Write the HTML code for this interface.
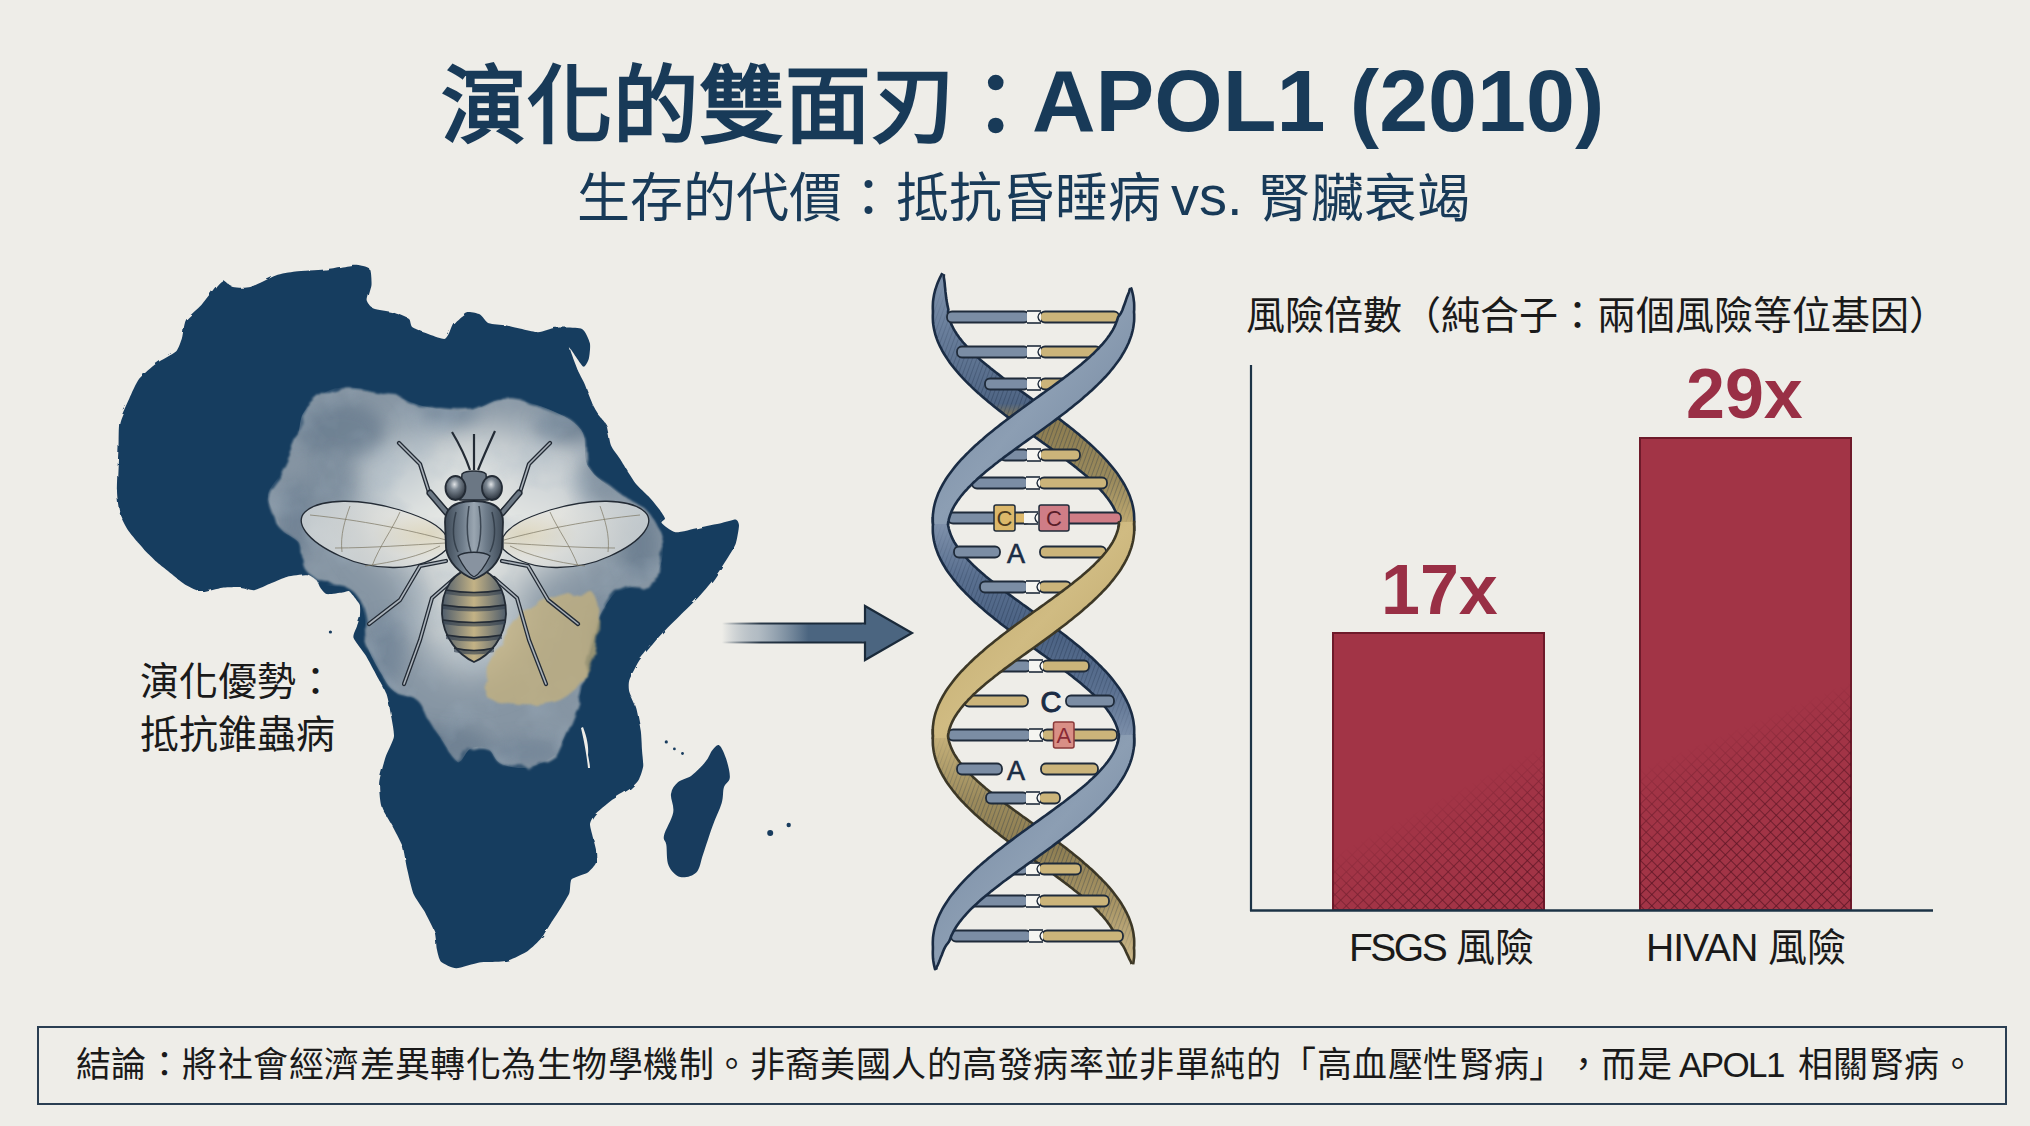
<!DOCTYPE html>
<html lang="zh-TW">
<head>
<meta charset="utf-8">
<style>
html,body{margin:0;padding:0;}
body{width:2030px;height:1126px;overflow:hidden;background:#eeede8;font-family:"Liberation Sans",sans-serif;position:relative;}
.abs{position:absolute;white-space:nowrap;}
.tt{font-size:85.5px;font-weight:bold;color:#183a58;line-height:100px;top:55px;}
.st{font-size:53px;color:#183a58;line-height:64px;top:167px;}
#adv{left:140px;top:655px;font-size:39px;color:#1a1a1a;line-height:53px;}
#charttitle{left:1246px;top:290px;font-size:39px;color:#1a1a1a;line-height:52px;}
#box{left:37px;top:1026px;width:1970px;height:79px;border:2px solid #2a3e52;box-sizing:border-box;}
.cc{top:1040px;font-size:35px;letter-spacing:0.45px;color:#1a1a1a;line-height:50px;}
.val{font-size:70px;font-weight:bold;color:#992f45;line-height:84px;}
.lab{top:923px;font-size:39px;color:#1a1a1a;line-height:50px;}
</style>
</head>
<body>
<svg class="abs" style="left:0;top:0" width="2030" height="1126">
<defs>
<filter id="rough" x="-5%" y="-5%" width="110%" height="110%"><feTurbulence type="fractalNoise" baseFrequency="0.08" numOctaves="2" seed="3"/><feDisplacementMap in="SourceGraphic" scale="3"/></filter>
<filter id="wc" x="-10%" y="-10%" width="120%" height="120%"><feTurbulence type="fractalNoise" baseFrequency="0.03" numOctaves="3" seed="7" result="n"/><feDisplacementMap in="SourceGraphic" in2="n" scale="14"/><feGaussianBlur stdDeviation="1.2"/></filter>
<filter id="blur8" x="-50%" y="-50%" width="200%" height="200%"><feGaussianBlur stdDeviation="8"/></filter>
<filter id="blur20" x="-50%" y="-50%" width="200%" height="200%"><feGaussianBlur stdDeviation="22"/></filter>
<filter id="mottle" x="0" y="0" width="100%" height="100%"><feTurbulence type="fractalNoise" baseFrequency="0.025" numOctaves="3" seed="11" result="t"/><feColorMatrix in="t" type="matrix" values="0 0 0 0 0.36  0 0 0 0 0.45  0 0 0 0 0.54  0 0 0 2.2 -0.95"/></filter>
<radialGradient id="cloudg" cx="0.5" cy="0.45" r="0.6">
<stop offset="0" stop-color="#e9eae6"/><stop offset="0.35" stop-color="#dfe2e1"/><stop offset="0.7" stop-color="#a9b6c0"/><stop offset="1" stop-color="#7f93a6"/>
</radialGradient>
<clipPath id="cloudclip"><path d="M304.8,411.0C311.0,402.9 321.6,391.7 334.6,388.6C347.6,385.5 367.5,389.3 383.0,392.4C398.5,395.5 413.5,404.2 427.8,407.3C442.1,410.4 456.5,412.2 468.9,411.0C481.3,409.8 490.0,400.4 502.4,399.8C514.8,399.2 530.4,402.3 543.5,407.3C556.6,412.3 573.3,419.8 580.8,429.7C588.2,439.6 582.0,456.4 588.2,467.0C594.4,477.6 608.0,485.6 618.0,493.0C628.0,500.4 640.4,503.6 647.9,511.7C655.4,519.8 661.5,531.0 662.8,541.6C664.0,552.2 661.9,567.0 655.4,575.1C648.9,583.2 630.9,586.9 624.0,590.0C617.1,593.1 618.3,589.6 614.3,593.8C610.3,598.0 603.1,608.8 600.0,615.0C596.9,621.2 598.3,620.9 595.7,631.0C593.1,641.1 587.6,663.4 584.5,675.9C581.4,688.4 581.1,694.0 577.0,705.7C572.9,717.4 564.2,737.5 560.0,746.0C555.8,754.5 557.6,753.4 552.0,757.0C546.4,760.6 534.8,766.6 526.3,767.7C517.8,768.8 507.1,766.7 500.7,763.5C494.3,760.3 493.0,751.0 488.0,748.5C483.0,746.0 475.5,746.4 470.9,748.5C466.3,750.6 463.0,759.9 460.2,761.3C457.4,762.7 459.1,764.1 453.8,757.0C448.5,749.9 434.6,728.0 428.5,718.5C422.4,709.0 422.6,704.4 417.0,700.0C411.4,695.6 401.0,696.5 395.0,692.0C389.0,687.5 385.7,680.8 381.0,673.0C376.3,665.2 369.8,654.3 367.0,645.0C364.2,635.7 366.0,625.0 364.5,617.0C363.0,609.0 361.1,601.8 358.0,597.0C354.9,592.2 351.2,589.9 346.0,588.0C340.8,586.1 331.7,586.7 327.0,585.5C322.3,584.3 321.5,583.6 318.0,581.0C314.5,578.4 308.5,574.2 306.0,570.0C303.5,565.8 304.0,560.5 303.0,556.0C302.0,551.5 303.3,547.2 300.0,543.0C296.7,538.8 286.7,534.8 283.0,531.0C279.3,527.2 280.5,526.0 278.0,520.0C275.5,514.0 267.3,503.2 268.0,495.0C268.7,486.8 277.5,480.4 282.4,470.7C287.3,461.0 293.6,446.9 297.3,437.0C301.0,427.1 298.6,419.1 304.8,411.0Z"/></clipPath>
</defs>
<path d="M117.0,491.0C116.9,484.4 118.2,454.9 118.5,448.0C118.8,441.1 118.4,426.9 119.5,422.0C120.6,417.1 127.4,402.8 129.3,398.5C131.2,394.2 136.3,382.5 139.0,379.0C141.7,375.5 153.0,366.0 156.7,363.3C160.4,360.6 173.5,354.1 176.0,351.6C178.5,349.1 181.0,341.2 182.0,338.0C183.0,334.8 184.0,323.3 186.0,320.0C188.0,316.7 198.5,308.2 201.6,304.7C204.7,301.2 214.9,287.4 217.0,285.0C219.1,282.6 221.4,280.1 223.0,280.3C224.6,280.5 230.1,286.3 232.8,287.0C235.5,287.7 246.1,288.2 250.4,287.0C254.7,285.8 271.3,276.9 275.8,275.4C280.3,273.8 290.5,272.1 295.4,271.5C300.3,270.9 318.8,270.2 324.7,269.5C330.6,268.8 349.5,264.8 354.0,264.7C358.5,264.6 367.9,266.6 369.6,268.6C371.4,270.6 371.7,281.8 371.5,285.0C371.3,288.2 367.4,298.4 367.6,300.8C367.8,303.2 371.0,307.4 373.5,308.6C376.0,309.8 389.4,311.5 393.0,312.5C396.6,313.5 407.0,317.4 409.0,318.9C411.0,320.4 409.8,325.8 413.3,327.8C416.8,329.8 440.4,339.3 444.4,338.9C448.4,338.4 451.1,326.0 453.3,323.3C455.5,320.6 463.9,313.1 466.6,312.2C469.3,311.3 477.8,313.3 480.0,314.4C482.2,315.5 486.1,322.2 488.8,323.3C491.5,324.4 501.7,324.6 506.6,325.5C511.5,326.4 532.8,332.0 537.7,332.2C542.6,332.4 551.1,328.1 555.5,327.8C559.9,327.5 578.6,327.3 582.0,328.9C585.4,330.4 589.2,340.3 589.9,343.3C590.6,346.3 589.5,356.5 588.8,358.8C588.1,361.1 585.1,367.7 583.2,366.6C581.3,365.5 570.4,347.9 569.9,348.2C569.4,348.5 576.3,366.5 577.7,370.0C579.1,373.5 582.8,379.8 584.3,383.3C585.8,386.9 591.6,402.2 593.2,405.5C594.8,408.8 598.6,414.6 599.9,416.6C601.2,418.6 605.4,422.6 606.5,425.5C607.6,428.4 609.7,442.2 611.0,445.5C612.3,448.8 617.5,455.0 619.9,458.8C622.3,462.6 632.5,479.4 635.4,483.2C638.3,487.0 646.3,493.9 648.7,496.5C651.1,499.1 657.7,507.0 659.3,509.2C660.9,511.4 664.8,517.1 665.0,518.5C665.2,519.9 660.6,521.6 661.6,523.0C662.6,524.4 671.8,531.8 675.5,532.3C679.2,532.8 694.0,528.6 698.6,527.7C703.2,526.8 718.0,523.8 721.7,523.0C725.4,522.2 733.9,519.4 735.6,519.6C737.3,519.8 739.0,523.0 739.0,525.4C739.0,527.8 736.9,540.4 735.6,543.9C734.3,547.4 728.6,556.3 726.3,560.0C724.0,563.7 715.3,577.1 712.5,580.8C709.7,584.5 701.9,593.5 698.6,597.0C695.4,600.5 683.7,611.8 680.0,615.5C676.3,619.2 664.8,630.5 661.6,634.0C658.4,637.5 650.1,647.2 647.8,650.0C645.5,652.8 640.4,658.7 638.5,661.7C636.6,664.7 630.2,677.2 629.3,680.2C628.4,683.2 628.6,688.9 629.3,691.7C630.0,694.5 635.1,704.1 636.2,708.0C637.4,711.9 640.2,726.8 640.8,731.0C641.4,735.2 641.8,746.5 642.0,750.0C642.2,753.5 643.5,763.2 643.2,766.2C642.9,769.2 640.0,777.7 638.6,780.0C637.2,782.3 632.2,787.2 629.4,789.3C626.6,791.4 614.5,798.3 611.0,800.8C607.5,803.3 596.8,812.4 594.7,814.7C592.6,817.0 590.2,821.9 590.0,824.0C589.8,826.1 591.8,832.9 592.4,835.4C593.0,837.9 595.5,846.5 595.9,849.3C596.2,852.1 596.7,860.7 595.9,863.0C595.1,865.3 590.2,870.8 587.8,872.4C585.4,874.0 573.5,877.2 571.6,879.3C569.8,881.4 570.5,890.2 569.3,893.2C568.1,896.2 561.8,906.3 560.0,909.3C558.2,912.3 552.8,920.3 550.9,923.2C549.0,926.1 543.5,935.5 541.2,938.3C538.9,941.1 531.0,948.7 527.8,950.9C524.6,953.1 512.2,959.0 509.3,960.1C506.4,961.2 501.6,961.5 498.6,961.7C495.6,961.9 483.5,961.8 479.3,962.4C475.1,963.0 460.0,968.3 456.2,968.2C452.4,968.1 442.9,963.6 441.0,961.7C439.1,959.8 437.4,952.0 436.8,949.0C436.2,946.0 435.9,935.7 434.6,931.9C433.3,928.1 426.1,914.4 424.0,910.6C421.9,906.8 415.0,897.8 413.3,893.5C411.6,889.2 408.0,872.7 406.9,868.0C405.8,863.3 404.1,850.9 402.6,846.6C401.1,842.3 394.1,829.4 392.0,825.3C389.9,821.2 382.6,810.3 381.3,806.0C380.0,801.7 378.8,787.5 379.2,782.6C379.6,777.7 384.1,761.6 385.6,757.0C387.1,752.4 393.3,740.9 393.9,737.0C394.5,733.1 392.3,722.7 391.6,718.5C390.9,714.3 388.2,699.1 387.0,695.4C385.8,691.7 382.1,685.5 380.0,681.6C377.9,677.7 368.8,660.6 366.2,656.2C363.6,651.8 354.4,640.7 353.5,637.7C352.6,634.7 356.4,628.3 357.0,626.2C357.6,624.1 359.5,619.1 359.8,617.0C360.1,614.9 360.4,607.0 359.8,605.0C359.2,603.0 355.4,598.7 354.3,597.3C353.2,595.9 350.0,591.5 348.8,591.0C347.6,590.5 344.6,592.3 342.4,592.6C340.2,592.9 328.9,594.6 326.7,594.1C324.5,593.6 321.4,589.2 320.4,587.8C319.4,586.4 317.7,581.3 316.4,580.0C315.1,578.7 309.9,574.7 307.0,574.4C304.1,574.1 290.9,575.9 287.3,576.8C283.8,577.7 274.8,581.8 271.5,583.1C268.2,584.4 257.3,589.8 254.2,590.2C251.0,590.6 243.2,587.2 240.0,587.0C236.8,586.8 226.0,587.2 222.2,587.7C218.4,588.2 206.0,592.3 202.3,592.0C198.6,591.7 188.4,586.6 185.3,584.8C182.2,582.9 173.8,575.8 171.0,573.5C168.2,571.2 159.6,564.6 156.8,562.0C154.0,559.4 145.4,551.0 142.6,547.9C139.8,544.8 130.7,534.2 128.4,530.8C126.1,527.4 121.0,517.8 119.9,513.8C118.8,509.8 117.1,497.6 117.0,491.0Z" fill="#183c5e" filter="url(#rough)"/>
<path d="M719.4,745.4C721.7,746.9 724.6,753.9 726.3,759.3C728.0,764.7 730.2,773.1 729.8,777.7C729.4,782.3 725.4,782.8 724.0,787.0C722.6,791.2 723.6,796.6 721.7,803.1C719.8,809.6 715.6,817.7 712.5,826.2C709.4,834.7 705.9,846.2 703.2,853.9C700.5,861.6 700.1,868.5 696.3,872.4C692.5,876.2 684.8,878.1 680.2,877.0C675.6,875.9 670.9,870.9 668.6,865.5C666.3,860.1 667.1,849.7 666.3,844.7C665.5,839.7 662.9,840.8 664.0,835.4C665.1,830.0 672.0,819.3 673.2,812.4C674.4,805.5 670.2,798.9 671.0,793.9C671.8,788.9 674.4,785.4 677.9,782.3C681.4,779.2 687.1,778.8 691.7,775.4C696.3,772.0 702.1,765.8 705.6,761.6C709.1,757.4 710.2,752.7 712.5,750.0C714.8,747.3 717.1,743.9 719.4,745.4Z" fill="#183c5e"/>
<circle cx="666.3" cy="741.9" r="1.6" fill="#183c5e"/>
<circle cx="674.4" cy="748.9" r="1.4" fill="#183c5e"/>
<circle cx="682.5" cy="753.5" r="1.4" fill="#183c5e"/>
<circle cx="770.2" cy="833.1" r="3" fill="#183c5e"/>
<circle cx="788.7" cy="825" r="2.2" fill="#183c5e"/>
<circle cx="330.4" cy="632" r="1.6" fill="#183c5e"/>
<path d="M583,727 C586,735 589,745 588,755 C589,760 590,765 590,768 L588,768 C587,758 585,745 581,728Z" fill="#eeede8"/>
<path d="M304.8,411.0C311.0,402.9 321.6,391.7 334.6,388.6C347.6,385.5 367.5,389.3 383.0,392.4C398.5,395.5 413.5,404.2 427.8,407.3C442.1,410.4 456.5,412.2 468.9,411.0C481.3,409.8 490.0,400.4 502.4,399.8C514.8,399.2 530.4,402.3 543.5,407.3C556.6,412.3 573.3,419.8 580.8,429.7C588.2,439.6 582.0,456.4 588.2,467.0C594.4,477.6 608.0,485.6 618.0,493.0C628.0,500.4 640.4,503.6 647.9,511.7C655.4,519.8 661.5,531.0 662.8,541.6C664.0,552.2 661.9,567.0 655.4,575.1C648.9,583.2 630.9,586.9 624.0,590.0C617.1,593.1 618.3,589.6 614.3,593.8C610.3,598.0 603.1,608.8 600.0,615.0C596.9,621.2 598.3,620.9 595.7,631.0C593.1,641.1 587.6,663.4 584.5,675.9C581.4,688.4 581.1,694.0 577.0,705.7C572.9,717.4 564.2,737.5 560.0,746.0C555.8,754.5 557.6,753.4 552.0,757.0C546.4,760.6 534.8,766.6 526.3,767.7C517.8,768.8 507.1,766.7 500.7,763.5C494.3,760.3 493.0,751.0 488.0,748.5C483.0,746.0 475.5,746.4 470.9,748.5C466.3,750.6 463.0,759.9 460.2,761.3C457.4,762.7 459.1,764.1 453.8,757.0C448.5,749.9 434.6,728.0 428.5,718.5C422.4,709.0 422.6,704.4 417.0,700.0C411.4,695.6 401.0,696.5 395.0,692.0C389.0,687.5 385.7,680.8 381.0,673.0C376.3,665.2 369.8,654.3 367.0,645.0C364.2,635.7 366.0,625.0 364.5,617.0C363.0,609.0 361.1,601.8 358.0,597.0C354.9,592.2 351.2,589.9 346.0,588.0C340.8,586.1 331.7,586.7 327.0,585.5C322.3,584.3 321.5,583.6 318.0,581.0C314.5,578.4 308.5,574.2 306.0,570.0C303.5,565.8 304.0,560.5 303.0,556.0C302.0,551.5 303.3,547.2 300.0,543.0C296.7,538.8 286.7,534.8 283.0,531.0C279.3,527.2 280.5,526.0 278.0,520.0C275.5,514.0 267.3,503.2 268.0,495.0C268.7,486.8 277.5,480.4 282.4,470.7C287.3,461.0 293.6,446.9 297.3,437.0C301.0,427.1 298.6,419.1 304.8,411.0Z" fill="#8695a3" filter="url(#wc)"/>
<g clip-path="url(#cloudclip)">
<g filter="url(#blur20)">
<ellipse cx="480" cy="505" rx="115" ry="75" fill="#e6e8e5"/>
<ellipse cx="470" cy="610" rx="50" ry="60" fill="#d9dddc"/>
<ellipse cx="545" cy="470" rx="50" ry="40" fill="#cdd3d6"/>
<ellipse cx="400" cy="470" rx="45" ry="35" fill="#c5cdd2"/>
</g>
<g filter="url(#blur8)" opacity="0.7">
<ellipse cx="340" cy="430" rx="45" ry="28" fill="#66798c"/>
<ellipse cx="450" cy="412" rx="30" ry="14" fill="#72869a"/>
<ellipse cx="565" cy="425" rx="30" ry="18" fill="#66798c"/>
<ellipse cx="295" cy="520" rx="16" ry="40" fill="#6a7d90"/>
<ellipse cx="640" cy="545" rx="18" ry="35" fill="#66798c"/>
<ellipse cx="440" cy="745" rx="50" ry="20" fill="#677a8d"/>
<ellipse cx="385" cy="650" rx="18" ry="35" fill="#6f8295"/>
<ellipse cx="605" cy="640" rx="14" ry="40" fill="#66798c"/>
<ellipse cx="525" cy="752" rx="38" ry="14" fill="#6f8295"/>
<ellipse cx="330" cy="480" rx="25" ry="30" fill="#7a8b9b"/>
<ellipse cx="600" cy="480" rx="22" ry="25" fill="#7a8b9b"/>
</g>
<rect x="260" y="380" width="420" height="400" fill="#5d7389" filter="url(#mottle)" opacity="0.35"/>
</g>
<path d="M528,612 C545,600 570,592 590,590 C602,600 600,630 596,650 C592,668 580,690 560,700 C540,708 510,706 490,700 C482,690 486,676 495,660 C505,640 515,622 528,612Z" fill="#c8b37c" opacity="0.72" filter="url(#wc)"/>
</svg>
<svg class="abs" style="left:0;top:0" width="2030" height="1126">
<defs>
<linearGradient id="thg" x1="0" y1="0" x2="1" y2="0"><stop offset="0" stop-color="#3e4a57"/><stop offset="0.3" stop-color="#6f7d8b"/><stop offset="0.5" stop-color="#9aa6b1"/><stop offset="0.7" stop-color="#6f7d8b"/><stop offset="1" stop-color="#3e4a57"/></linearGradient>
<linearGradient id="abg" x1="0" y1="0" x2="1" y2="0"><stop offset="0" stop-color="#4f5d6c"/><stop offset="0.5" stop-color="#c3b285"/><stop offset="1" stop-color="#4f5d6c"/></linearGradient>
<radialGradient id="eyeg" cx="0.45" cy="0.35" r="0.65"><stop offset="0" stop-color="#e0e3e6"/><stop offset="0.35" stop-color="#7d8893"/><stop offset="1" stop-color="#2a323c"/></radialGradient>
<radialGradient id="wingg" cx="0.85" cy="0.5" r="0.9"><stop offset="0" stop-color="#ddd3b4"/><stop offset="0.4" stop-color="#e7e6e0"/><stop offset="1" stop-color="#e2e5e4"/></radialGradient>
<radialGradient id="wingg2" cx="0.15" cy="0.5" r="0.9"><stop offset="0" stop-color="#ddd3b4"/><stop offset="0.4" stop-color="#e7e6e0"/><stop offset="1" stop-color="#e2e5e4"/></radialGradient>
</defs>
<path d="M447.0,511.0 L429.0,492.0 L420.0,464.0 L399.0,443.0" fill="none" stroke="#232b35" stroke-width="4.2" stroke-linejoin="round" stroke-linecap="round"/><path d="M447.0,511.0 L429.0,492.0 L420.0,464.0 L399.0,443.0" fill="none" stroke="#aab2ba" stroke-width="1.6" stroke-linejoin="round" stroke-linecap="round"/>
<path d="M502.0,511.0 L520.0,492.0 L529.0,464.0 L550.0,443.0" fill="none" stroke="#232b35" stroke-width="4.2" stroke-linejoin="round" stroke-linecap="round"/><path d="M502.0,511.0 L520.0,492.0 L529.0,464.0 L550.0,443.0" fill="none" stroke="#aab2ba" stroke-width="1.6" stroke-linejoin="round" stroke-linecap="round"/>
<path d="M446.0,561.0 L420.0,566.0 L400.0,600.0 L369.0,624.0" fill="none" stroke="#232b35" stroke-width="4.2" stroke-linejoin="round" stroke-linecap="round"/><path d="M446.0,561.0 L420.0,566.0 L400.0,600.0 L369.0,624.0" fill="none" stroke="#aab2ba" stroke-width="1.6" stroke-linejoin="round" stroke-linecap="round"/>
<path d="M502.0,561.0 L528.0,566.0 L548.0,600.0 L578.0,624.0" fill="none" stroke="#232b35" stroke-width="4.2" stroke-linejoin="round" stroke-linecap="round"/><path d="M502.0,561.0 L528.0,566.0 L548.0,600.0 L578.0,624.0" fill="none" stroke="#aab2ba" stroke-width="1.6" stroke-linejoin="round" stroke-linecap="round"/>
<path d="M455.0,578.0 L432.0,598.0 L420.0,640.0 L404.0,684.0" fill="none" stroke="#232b35" stroke-width="4.2" stroke-linejoin="round" stroke-linecap="round"/><path d="M455.0,578.0 L432.0,598.0 L420.0,640.0 L404.0,684.0" fill="none" stroke="#aab2ba" stroke-width="1.6" stroke-linejoin="round" stroke-linecap="round"/>
<path d="M494.0,578.0 L517.0,598.0 L529.0,640.0 L546.0,684.0" fill="none" stroke="#232b35" stroke-width="4.2" stroke-linejoin="round" stroke-linecap="round"/><path d="M494.0,578.0 L517.0,598.0 L529.0,640.0 L546.0,684.0" fill="none" stroke="#aab2ba" stroke-width="1.6" stroke-linejoin="round" stroke-linecap="round"/>
<path d="M447,513 L430,493" stroke="#232b35" stroke-width="7" stroke-linecap="round"/><path d="M447,513 L430,493" stroke="#6c7884" stroke-width="4" stroke-linecap="round"/>
<path d="M502,513 L519,493" stroke="#232b35" stroke-width="7" stroke-linecap="round"/><path d="M502,513 L519,493" stroke="#6c7884" stroke-width="4" stroke-linecap="round"/>
<path d="M447,549 C420,575 370,570 340,556 C305,540 295,522 305,512 C320,498 360,498 400,510 C425,518 440,525 447,537Z" fill="url(#wingg)" fill-opacity="0.7" stroke="#232b35" stroke-width="1.3"/>
<path d="M503,549 C530,575 580,570 610,556 C645,540 655,522 645,512 C630,498 590,498 550,510 C525,518 510,525 503,537Z" fill="url(#wingg2)" fill-opacity="0.7" stroke="#232b35" stroke-width="1.3"/>
<path d="M446,540 C410,530 360,520 310,515" fill="none" stroke="#7d7865" stroke-width="0.9" opacity="0.8"/>
<path d="M446,543 C410,545 370,548 335,548" fill="none" stroke="#7d7865" stroke-width="0.9" opacity="0.8"/>
<path d="M440,546 C420,556 395,562 365,566" fill="none" stroke="#7d7865" stroke-width="0.9" opacity="0.8"/>
<path d="M400,512 C392,530 380,545 372,566" fill="none" stroke="#7d7865" stroke-width="0.9" opacity="0.8"/>
<path d="M350,506 C345,520 340,535 342,552" fill="none" stroke="#7d7865" stroke-width="0.9" opacity="0.8"/>
<path d="M504,540 C540,530 590,520 640,515" fill="none" stroke="#7d7865" stroke-width="0.9" opacity="0.8"/>
<path d="M504,543 C540,545 580,548 615,548" fill="none" stroke="#7d7865" stroke-width="0.9" opacity="0.8"/>
<path d="M510,546 C530,556 555,562 585,566" fill="none" stroke="#7d7865" stroke-width="0.9" opacity="0.8"/>
<path d="M550,512 C558,530 570,545 578,566" fill="none" stroke="#7d7865" stroke-width="0.9" opacity="0.8"/>
<path d="M600,506 C605,520 610,535 608,552" fill="none" stroke="#7d7865" stroke-width="0.9" opacity="0.8"/>
<path d="M470,470 C465,455 458,442 452,432" fill="none" stroke="#232b35" stroke-width="2.2"/>
<path d="M474,470 L474,434" fill="none" stroke="#232b35" stroke-width="2.2"/>
<path d="M478,470 C484,455 490,442 495,431" fill="none" stroke="#232b35" stroke-width="2.2"/>
<path d="M474,569 C494,569 506,590 506,614 C505,638 490,655 474,662 C459,655 443,638 442,614 C441,590 454,569 474,569Z" fill="url(#abg)" stroke="#232b35" stroke-width="1.8"/>
<path d="M446,590 Q474,595 502,590 L502,594 Q474,599 446,594Z" fill="#2f3c4c" opacity="0.55"/>
<path d="M446,590 Q474,595 502,590" fill="none" stroke="#232b35" stroke-width="1.4"/>
<path d="M443,605 Q474,610 505,605 L505,609 Q474,614 443,609Z" fill="#2f3c4c" opacity="0.6"/>
<path d="M443,605 Q474,610 505,605" fill="none" stroke="#232b35" stroke-width="1.4"/>
<path d="M443,620 Q474,625 505,620 L505,624 Q474,629 443,624Z" fill="#2f3c4c" opacity="0.6"/>
<path d="M443,620 Q474,625 505,620" fill="none" stroke="#232b35" stroke-width="1.4"/>
<path d="M446,635 Q474,640 502,635 L502,639 Q474,644 446,639Z" fill="#2f3c4c" opacity="0.6"/>
<path d="M446,635 Q474,640 502,635" fill="none" stroke="#232b35" stroke-width="1.4"/>
<path d="M454,648 Q474,653 494,648 L494,652 Q474,657 454,652Z" fill="#2f3c4c" opacity="0.6"/>
<path d="M454,648 Q474,653 494,648" fill="none" stroke="#232b35" stroke-width="1.4"/>
<path d="M474,501 C492,501 503,507 503,522 L502,548 C500,562 488,574 474,579 C460,574 448,562 446,548 L445,522 C445,507 456,501 474,501Z" fill="url(#thg)" stroke="#232b35" stroke-width="1.8"/>
<path d="M458,556 C463,566 468,574 474,577 C480,574 485,566 490,556 C484,551 464,551 458,556Z" fill="#8893a0" stroke="#232b35" stroke-width="1.3"/>
<path d="M469,506 C466,525 467,540 471,552" fill="none" stroke="#2f3945" stroke-width="1.5" opacity="0.85"/>
<path d="M479,506 C482,525 481,540 477,552" fill="none" stroke="#2f3945" stroke-width="1.5" opacity="0.85"/>
<path d="M456,512 C452,528 453,542 458,552" fill="none" stroke="#2f3945" stroke-width="1.5" opacity="0.85"/>
<path d="M492,512 C496,528 495,542 490,552" fill="none" stroke="#2f3945" stroke-width="1.5" opacity="0.85"/>
<path d="M462,474 C466,470 482,470 486,474 L488,500 L460,500Z" fill="#6b7784" stroke="#232b35" stroke-width="1.5"/>
<ellipse cx="455.5" cy="488" rx="10" ry="12" fill="url(#eyeg)" stroke="#232b35" stroke-width="1.8"/>
<ellipse cx="492" cy="488" rx="10" ry="12" fill="url(#eyeg)" stroke="#232b35" stroke-width="1.8"/>
</svg>
<svg class="abs" style="left:0;top:0" width="2030" height="1126">
<defs>
<linearGradient id="arrg" x1="722" y1="0" x2="866" y2="0" gradientUnits="userSpaceOnUse">
<stop offset="0" stop-color="#4b6580" stop-opacity="0"/><stop offset="0.25" stop-color="#8a9bab" stop-opacity="0.6"/><stop offset="0.6" stop-color="#4b6580"/><stop offset="1" stop-color="#4b6580"/>
</linearGradient>
<linearGradient id="arrs" x1="722" y1="0" x2="800" y2="0" gradientUnits="userSpaceOnUse">
<stop offset="0" stop-color="#1a2a3a" stop-opacity="0"/><stop offset="0.5" stop-color="#1a2a3a" stop-opacity="0.9"/><stop offset="1" stop-color="#1a2a3a"/>
</linearGradient>
</defs>
<rect x="722" y="623" width="146" height="20" fill="url(#arrg)"/>
<line x1="722" y1="623.5" x2="866" y2="623.5" stroke="url(#arrs)" stroke-width="2.2"/>
<line x1="722" y1="642.5" x2="866" y2="642.5" stroke="url(#arrs)" stroke-width="2.2"/>
<path d="M865,606 L912,633 L865,660Z" fill="#4b6580" stroke="#1a2a3a" stroke-width="2.2" stroke-linejoin="miter"/>
<rect x="862" y="624.6" width="5" height="16.8" fill="#4b6580"/>
</svg>

<svg class="abs" style="left:0;top:0" width="2030" height="1126">
<defs>
<pattern id="hb" width="4" height="4" patternUnits="userSpaceOnUse" patternTransform="rotate(20)"><line x1="0" y1="0" x2="0" y2="4" stroke="#1f2f48" stroke-width="1.3"/></pattern>
<pattern id="hg" width="5" height="5" patternUnits="userSpaceOnUse" patternTransform="rotate(25)"><rect width="5" height="5" fill="#9c8b5c"/><line x1="0" y1="0" x2="0" y2="5" stroke="#6b5d38" stroke-width="1.6"/></pattern>
<linearGradient id="fb" x1="0" y1="0" x2="1" y2="1"><stop offset="0" stop-color="#71859f"/><stop offset="0.5" stop-color="#8c9eb3"/><stop offset="1" stop-color="#6d819b"/></linearGradient>
<linearGradient id="fg" x1="0" y1="0" x2="1" y2="1"><stop offset="0" stop-color="#bda567"/><stop offset="0.5" stop-color="#d0bb82"/><stop offset="1" stop-color="#b9a265"/></linearGradient>
</defs>
<defs>
<linearGradient id="bk1" gradientUnits="userSpaceOnUse" x1="0" y1="277" x2="0" y2="530"><stop offset="0" stop-color="#7f93ac"/><stop offset="0.2" stop-color="#6a7f9c"/><stop offset="0.5" stop-color="#4f6584"/><stop offset="0.56" stop-color="#8c7c50"/><stop offset="0.8" stop-color="#9a8a5c"/><stop offset="1" stop-color="#c4ae74"/></linearGradient>
<linearGradient id="mk1g" gradientUnits="userSpaceOnUse" x1="0" y1="277" x2="0" y2="530"><stop offset="0" stop-color="#fff" stop-opacity="0"/><stop offset="0.25" stop-color="#fff" stop-opacity="0.6"/><stop offset="0.5" stop-color="#fff" stop-opacity="1"/><stop offset="0.85" stop-color="#fff" stop-opacity="0.8"/><stop offset="1" stop-color="#fff" stop-opacity="0"/></linearGradient><mask id="mk1"><rect x="880" y="277" width="300" height="253" fill="url(#mk1g)"/></mask>
<linearGradient id="bk2" gradientUnits="userSpaceOnUse" x1="0" y1="518" x2="0" y2="745"><stop offset="0" stop-color="#8395ae"/><stop offset="0.25" stop-color="#5a7090"/><stop offset="0.5" stop-color="#4b6283"/><stop offset="0.75" stop-color="#5a7090"/><stop offset="1" stop-color="#8395ae"/></linearGradient>
<linearGradient id="mk2g" gradientUnits="userSpaceOnUse" x1="0" y1="518" x2="0" y2="745"><stop offset="0" stop-color="#fff" stop-opacity="0"/><stop offset="0.3" stop-color="#fff" stop-opacity="0.8"/><stop offset="0.5" stop-color="#fff" stop-opacity="1"/><stop offset="0.7" stop-color="#fff" stop-opacity="0.8"/><stop offset="1" stop-color="#fff" stop-opacity="0"/></linearGradient><mask id="mk2"><rect x="880" y="518" width="300" height="227" fill="url(#mk2g)"/></mask>
<linearGradient id="bk3" gradientUnits="userSpaceOnUse" x1="0" y1="730" x2="0" y2="962"><stop offset="0" stop-color="#c9b47c"/><stop offset="0.3" stop-color="#9c8b5c"/><stop offset="0.5" stop-color="#8e7e52"/><stop offset="0.75" stop-color="#a89565"/><stop offset="1" stop-color="#cdb98a"/></linearGradient>
<linearGradient id="mk3g" gradientUnits="userSpaceOnUse" x1="0" y1="730" x2="0" y2="962"><stop offset="0" stop-color="#fff" stop-opacity="0"/><stop offset="0.3" stop-color="#fff" stop-opacity="0.8"/><stop offset="0.5" stop-color="#fff" stop-opacity="1"/><stop offset="0.8" stop-color="#fff" stop-opacity="0.7"/><stop offset="1" stop-color="#fff" stop-opacity="0"/></linearGradient><mask id="mk3"><rect x="880" y="730" width="300" height="232" fill="url(#mk3g)"/></mask>
</defs>
<path d="M942.3,273.1 L941.1,275.5 L939.9,277.8 L938.8,280.2 L937.8,282.5 L936.9,284.9 L936.1,287.3 L935.3,289.6 L934.7,292.0 L934.1,294.4 L933.7,296.7 L933.3,299.1 L933.0,301.5 L932.9,303.8 L932.8,306.2 L932.8,308.5 L932.9,310.8 L932.9,313.2 L932.8,315.5 L932.8,317.8 L932.9,320.2 L933.0,322.5 L933.3,324.9 L933.7,327.3 L934.1,329.6 L934.7,332.0 L935.3,334.4 L936.1,336.7 L936.9,339.1 L937.8,341.5 L938.8,343.8 L939.9,346.2 L941.1,348.5 L942.3,350.9 L943.7,353.2 L945.1,355.5 L946.6,357.8 L948.1,360.1 L949.7,362.4 L951.4,364.7 L953.2,366.9 L955.0,369.2 L956.9,371.4 L958.8,373.7 L960.8,375.9 L962.9,378.1 L965.0,380.3 L967.2,382.6 L969.4,384.7 L971.6,386.9 L973.9,389.1 L976.3,391.3 L978.7,393.4 L981.1,395.6 L983.6,397.7 L986.1,399.8 L988.6,402.0 L991.2,404.1 L993.8,406.2 L996.4,408.3 L999.1,410.4 L1001.8,412.4 L1004.4,414.5 L1007.2,416.6 L1009.9,418.6 L1012.6,420.6 L1015.3,422.7 L1018.1,424.7 L1020.8,426.7 L1023.6,428.7 L1026.4,430.7 L1029.1,432.7 L1031.9,434.7 L1034.6,436.7 L1037.3,438.6 L1040.1,440.6 L1042.8,442.6 L1045.5,444.5 L1048.1,446.4 L1050.8,448.4 L1053.4,450.3 L1056.0,452.2 L1058.6,454.1 L1061.1,456.0 L1063.6,457.8 L1066.1,459.7 L1068.5,461.6 L1070.9,463.4 L1073.2,465.3 L1075.6,467.1 L1077.8,468.9 L1080.0,470.7 L1082.2,472.6 L1084.3,474.3 L1086.4,476.1 L1088.4,477.9 L1090.3,479.7 L1092.2,481.4 L1094.1,483.2 L1095.9,484.9 L1097.6,486.7 L1099.2,488.4 L1100.8,490.1 L1102.3,491.8 L1103.8,493.5 L1105.2,495.2 L1106.5,496.9 L1107.8,498.5 L1109.0,500.2 L1110.1,501.8 L1111.2,503.5 L1112.2,505.1 L1113.1,506.7 L1114.0,508.4 L1114.8,510.0 L1115.6,511.6 L1116.2,513.3 L1116.8,514.9 L1117.4,516.5 L1117.9,518.2 L1118.3,519.8 L1118.6,521.5 L1118.9,523.2 L1118.9,524.8 L1118.6,526.5 L1118.3,528.2 L1118.1,529.0 L1134.2,531.0 L1134.2,529.8 L1134.2,527.5 L1134.1,525.2 L1134.1,522.8 L1134.2,520.5 L1134.2,518.2 L1134.1,515.8 L1134.0,513.5 L1133.7,511.1 L1133.3,508.7 L1132.9,506.4 L1132.3,504.0 L1131.7,501.6 L1130.9,499.3 L1130.1,496.9 L1129.2,494.5 L1128.2,492.2 L1127.1,489.8 L1125.9,487.5 L1124.7,485.1 L1123.3,482.8 L1121.9,480.5 L1120.4,478.2 L1118.9,475.9 L1117.3,473.6 L1115.6,471.3 L1113.8,469.1 L1112.0,466.8 L1110.1,464.6 L1108.2,462.3 L1106.2,460.1 L1104.1,457.9 L1102.0,455.7 L1099.8,453.4 L1097.6,451.3 L1095.4,449.1 L1093.1,446.9 L1090.7,444.7 L1088.3,442.6 L1085.9,440.4 L1083.4,438.3 L1080.9,436.2 L1078.4,434.0 L1075.8,431.9 L1073.2,429.8 L1070.6,427.7 L1067.9,425.6 L1065.2,423.6 L1062.6,421.5 L1059.8,419.4 L1057.1,417.4 L1054.4,415.4 L1051.7,413.3 L1048.9,411.3 L1046.2,409.3 L1043.4,407.3 L1040.6,405.3 L1037.9,403.3 L1035.1,401.3 L1032.4,399.3 L1029.7,397.4 L1026.9,395.4 L1024.2,393.4 L1021.5,391.5 L1018.9,389.6 L1016.2,387.6 L1013.6,385.7 L1011.0,383.8 L1008.4,381.9 L1005.9,380.0 L1003.4,378.2 L1000.9,376.3 L998.5,374.4 L996.1,372.6 L993.8,370.7 L991.4,368.9 L989.2,367.1 L987.0,365.3 L984.8,363.4 L982.7,361.7 L980.6,359.9 L978.6,358.1 L976.7,356.3 L974.8,354.6 L972.9,352.8 L971.1,351.1 L969.4,349.3 L967.8,347.6 L966.2,345.9 L964.7,344.2 L963.2,342.5 L961.8,340.8 L960.5,339.1 L959.2,337.5 L958.0,335.8 L956.9,334.2 L955.8,332.5 L954.8,330.9 L953.9,329.3 L953.0,327.6 L952.2,326.0 L951.4,324.4 L950.8,322.7 L950.2,321.1 L949.6,319.5 L949.1,317.8 L948.7,316.2 L948.4,314.5 L948.1,312.8 L948.1,311.2 L948.4,309.5 L948.0,307.7 L947.6,305.9 L947.2,304.1 L946.9,302.1 L946.5,300.1 L946.2,298.0 L946.0,295.9 L945.7,293.6 L945.4,291.2 L945.2,288.7 L944.9,286.1 L944.7,283.3 L944.3,280.3 L943.8,277.1 L943.9,274.1Z" fill="url(#bk1)"/><path d="M942.3,273.1 L941.1,275.5 L939.9,277.8 L938.8,280.2 L937.8,282.5 L936.9,284.9 L936.1,287.3 L935.3,289.6 L934.7,292.0 L934.1,294.4 L933.7,296.7 L933.3,299.1 L933.0,301.5 L932.9,303.8 L932.8,306.2 L932.8,308.5 L932.9,310.8 L932.9,313.2 L932.8,315.5 L932.8,317.8 L932.9,320.2 L933.0,322.5 L933.3,324.9 L933.7,327.3 L934.1,329.6 L934.7,332.0 L935.3,334.4 L936.1,336.7 L936.9,339.1 L937.8,341.5 L938.8,343.8 L939.9,346.2 L941.1,348.5 L942.3,350.9 L943.7,353.2 L945.1,355.5 L946.6,357.8 L948.1,360.1 L949.7,362.4 L951.4,364.7 L953.2,366.9 L955.0,369.2 L956.9,371.4 L958.8,373.7 L960.8,375.9 L962.9,378.1 L965.0,380.3 L967.2,382.6 L969.4,384.7 L971.6,386.9 L973.9,389.1 L976.3,391.3 L978.7,393.4 L981.1,395.6 L983.6,397.7 L986.1,399.8 L988.6,402.0 L991.2,404.1 L993.8,406.2 L996.4,408.3 L999.1,410.4 L1001.8,412.4 L1004.4,414.5 L1007.2,416.6 L1009.9,418.6 L1012.6,420.6 L1015.3,422.7 L1018.1,424.7 L1020.8,426.7 L1023.6,428.7 L1026.4,430.7 L1029.1,432.7 L1031.9,434.7 L1034.6,436.7 L1037.3,438.6 L1040.1,440.6 L1042.8,442.6 L1045.5,444.5 L1048.1,446.4 L1050.8,448.4 L1053.4,450.3 L1056.0,452.2 L1058.6,454.1 L1061.1,456.0 L1063.6,457.8 L1066.1,459.7 L1068.5,461.6 L1070.9,463.4 L1073.2,465.3 L1075.6,467.1 L1077.8,468.9 L1080.0,470.7 L1082.2,472.6 L1084.3,474.3 L1086.4,476.1 L1088.4,477.9 L1090.3,479.7 L1092.2,481.4 L1094.1,483.2 L1095.9,484.9 L1097.6,486.7 L1099.2,488.4 L1100.8,490.1 L1102.3,491.8 L1103.8,493.5 L1105.2,495.2 L1106.5,496.9 L1107.8,498.5 L1109.0,500.2 L1110.1,501.8 L1111.2,503.5 L1112.2,505.1 L1113.1,506.7 L1114.0,508.4 L1114.8,510.0 L1115.6,511.6 L1116.2,513.3 L1116.8,514.9 L1117.4,516.5 L1117.9,518.2 L1118.3,519.8 L1118.6,521.5 L1118.9,523.2 L1118.9,524.8 L1118.6,526.5 L1118.3,528.2 L1118.1,529.0" fill="none" stroke="#1a2c44" stroke-width="2.6"/><path d="M943.9,274.1 L943.8,277.1 L944.3,280.3 L944.7,283.3 L944.9,286.1 L945.2,288.7 L945.4,291.2 L945.7,293.6 L946.0,295.9 L946.2,298.0 L946.5,300.1 L946.9,302.1 L947.2,304.1 L947.6,305.9 L948.0,307.7 L948.4,309.5 L948.1,311.2 L948.1,312.8 L948.4,314.5 L948.7,316.2 L949.1,317.8 L949.6,319.5 L950.2,321.1 L950.8,322.7 L951.4,324.4 L952.2,326.0 L953.0,327.6 L953.9,329.3 L954.8,330.9 L955.8,332.5 L956.9,334.2 L958.0,335.8 L959.2,337.5 L960.5,339.1 L961.8,340.8 L963.2,342.5 L964.7,344.2 L966.2,345.9 L967.8,347.6 L969.4,349.3 L971.1,351.1 L972.9,352.8 L974.8,354.6 L976.7,356.3 L978.6,358.1 L980.6,359.9 L982.7,361.7 L984.8,363.4 L987.0,365.3 L989.2,367.1 L991.4,368.9 L993.8,370.7 L996.1,372.6 L998.5,374.4 L1000.9,376.3 L1003.4,378.2 L1005.9,380.0 L1008.4,381.9 L1011.0,383.8 L1013.6,385.7 L1016.2,387.6 L1018.9,389.6 L1021.5,391.5 L1024.2,393.4 L1026.9,395.4 L1029.7,397.4 L1032.4,399.3 L1035.1,401.3 L1037.9,403.3 L1040.6,405.3 L1043.4,407.3 L1046.2,409.3 L1048.9,411.3 L1051.7,413.3 L1054.4,415.4 L1057.1,417.4 L1059.8,419.4 L1062.6,421.5 L1065.2,423.6 L1067.9,425.6 L1070.6,427.7 L1073.2,429.8 L1075.8,431.9 L1078.4,434.0 L1080.9,436.2 L1083.4,438.3 L1085.9,440.4 L1088.3,442.6 L1090.7,444.7 L1093.1,446.9 L1095.4,449.1 L1097.6,451.3 L1099.8,453.4 L1102.0,455.7 L1104.1,457.9 L1106.2,460.1 L1108.2,462.3 L1110.1,464.6 L1112.0,466.8 L1113.8,469.1 L1115.6,471.3 L1117.3,473.6 L1118.9,475.9 L1120.4,478.2 L1121.9,480.5 L1123.3,482.8 L1124.7,485.1 L1125.9,487.5 L1127.1,489.8 L1128.2,492.2 L1129.2,494.5 L1130.1,496.9 L1130.9,499.3 L1131.7,501.6 L1132.3,504.0 L1132.9,506.4 L1133.3,508.7 L1133.7,511.1 L1134.0,513.5 L1134.1,515.8 L1134.2,518.2 L1134.2,520.5 L1134.1,522.8 L1134.1,525.2 L1134.2,527.5 L1134.2,529.8 L1134.2,531.0" fill="none" stroke="#1a2c44" stroke-width="2.6"/><path d="M942.3,273.1 L941.1,275.5 L939.9,277.8 L938.8,280.2 L937.8,282.5 L936.9,284.9 L936.1,287.3 L935.3,289.6 L934.7,292.0 L934.1,294.4 L933.7,296.7 L933.3,299.1 L933.0,301.5 L932.9,303.8 L932.8,306.2 L932.8,308.5 L932.9,310.8 L932.9,313.2 L932.8,315.5 L932.8,317.8 L932.9,320.2 L933.0,322.5 L933.3,324.9 L933.7,327.3 L934.1,329.6 L934.7,332.0 L935.3,334.4 L936.1,336.7 L936.9,339.1 L937.8,341.5 L938.8,343.8 L939.9,346.2 L941.1,348.5 L942.3,350.9 L943.7,353.2 L945.1,355.5 L946.6,357.8 L948.1,360.1 L949.7,362.4 L951.4,364.7 L953.2,366.9 L955.0,369.2 L956.9,371.4 L958.8,373.7 L960.8,375.9 L962.9,378.1 L965.0,380.3 L967.2,382.6 L969.4,384.7 L971.6,386.9 L973.9,389.1 L976.3,391.3 L978.7,393.4 L981.1,395.6 L983.6,397.7 L986.1,399.8 L988.6,402.0 L991.2,404.1 L993.8,406.2 L996.4,408.3 L999.1,410.4 L1001.8,412.4 L1004.4,414.5 L1007.2,416.6 L1009.9,418.6 L1012.6,420.6 L1015.3,422.7 L1018.1,424.7 L1020.8,426.7 L1023.6,428.7 L1026.4,430.7 L1029.1,432.7 L1031.9,434.7 L1034.6,436.7 L1037.3,438.6 L1040.1,440.6 L1042.8,442.6 L1045.5,444.5 L1048.1,446.4 L1050.8,448.4 L1053.4,450.3 L1056.0,452.2 L1058.6,454.1 L1061.1,456.0 L1063.6,457.8 L1066.1,459.7 L1068.5,461.6 L1070.9,463.4 L1073.2,465.3 L1075.6,467.1 L1077.8,468.9 L1080.0,470.7 L1082.2,472.6 L1084.3,474.3 L1086.4,476.1 L1088.4,477.9 L1090.3,479.7 L1092.2,481.4 L1094.1,483.2 L1095.9,484.9 L1097.6,486.7 L1099.2,488.4 L1100.8,490.1 L1102.3,491.8 L1103.8,493.5 L1105.2,495.2 L1106.5,496.9 L1107.8,498.5 L1109.0,500.2 L1110.1,501.8 L1111.2,503.5 L1112.2,505.1 L1113.1,506.7 L1114.0,508.4 L1114.8,510.0 L1115.6,511.6 L1116.2,513.3 L1116.8,514.9 L1117.4,516.5 L1117.9,518.2 L1118.3,519.8 L1118.6,521.5 L1118.9,523.2 L1118.9,524.8 L1118.6,526.5 L1118.3,528.2 L1118.1,529.0 L1134.2,531.0 L1134.2,529.8 L1134.2,527.5 L1134.1,525.2 L1134.1,522.8 L1134.2,520.5 L1134.2,518.2 L1134.1,515.8 L1134.0,513.5 L1133.7,511.1 L1133.3,508.7 L1132.9,506.4 L1132.3,504.0 L1131.7,501.6 L1130.9,499.3 L1130.1,496.9 L1129.2,494.5 L1128.2,492.2 L1127.1,489.8 L1125.9,487.5 L1124.7,485.1 L1123.3,482.8 L1121.9,480.5 L1120.4,478.2 L1118.9,475.9 L1117.3,473.6 L1115.6,471.3 L1113.8,469.1 L1112.0,466.8 L1110.1,464.6 L1108.2,462.3 L1106.2,460.1 L1104.1,457.9 L1102.0,455.7 L1099.8,453.4 L1097.6,451.3 L1095.4,449.1 L1093.1,446.9 L1090.7,444.7 L1088.3,442.6 L1085.9,440.4 L1083.4,438.3 L1080.9,436.2 L1078.4,434.0 L1075.8,431.9 L1073.2,429.8 L1070.6,427.7 L1067.9,425.6 L1065.2,423.6 L1062.6,421.5 L1059.8,419.4 L1057.1,417.4 L1054.4,415.4 L1051.7,413.3 L1048.9,411.3 L1046.2,409.3 L1043.4,407.3 L1040.6,405.3 L1037.9,403.3 L1035.1,401.3 L1032.4,399.3 L1029.7,397.4 L1026.9,395.4 L1024.2,393.4 L1021.5,391.5 L1018.9,389.6 L1016.2,387.6 L1013.6,385.7 L1011.0,383.8 L1008.4,381.9 L1005.9,380.0 L1003.4,378.2 L1000.9,376.3 L998.5,374.4 L996.1,372.6 L993.8,370.7 L991.4,368.9 L989.2,367.1 L987.0,365.3 L984.8,363.4 L982.7,361.7 L980.6,359.9 L978.6,358.1 L976.7,356.3 L974.8,354.6 L972.9,352.8 L971.1,351.1 L969.4,349.3 L967.8,347.6 L966.2,345.9 L964.7,344.2 L963.2,342.5 L961.8,340.8 L960.5,339.1 L959.2,337.5 L958.0,335.8 L956.9,334.2 L955.8,332.5 L954.8,330.9 L953.9,329.3 L953.0,327.6 L952.2,326.0 L951.4,324.4 L950.8,322.7 L950.2,321.1 L949.6,319.5 L949.1,317.8 L948.7,316.2 L948.4,314.5 L948.1,312.8 L948.1,311.2 L948.4,309.5 L948.0,307.7 L947.6,305.9 L947.2,304.1 L946.9,302.1 L946.5,300.1 L946.2,298.0 L946.0,295.9 L945.7,293.6 L945.4,291.2 L945.2,288.7 L944.9,286.1 L944.7,283.3 L944.3,280.3 L943.8,277.1 L943.9,274.1Z" fill="url(#hb)" mask="url(#mk1)" opacity="0.55"/>
<path d="M932.8,517.0 L932.8,519.4 L932.8,521.7 L933.0,524.0 L932.8,526.3 L932.8,528.6 L932.8,531.0 L932.9,533.3 L933.2,535.7 L933.5,538.1 L933.9,540.4 L934.4,542.8 L935.0,545.2 L935.7,547.6 L936.5,549.9 L937.4,552.3 L938.3,554.7 L939.4,557.0 L940.5,559.4 L941.7,561.7 L943.0,564.0 L944.4,566.3 L945.8,568.7 L947.3,571.0 L948.9,573.3 L950.6,575.5 L952.3,577.8 L954.1,580.1 L955.9,582.3 L957.8,584.6 L959.8,586.8 L961.8,589.0 L963.9,591.2 L966.1,593.5 L968.3,595.6 L970.5,597.8 L972.8,600.0 L975.1,602.2 L977.5,604.3 L979.9,606.5 L982.4,608.6 L984.8,610.8 L987.4,612.9 L989.9,615.0 L992.5,617.1 L995.1,619.2 L997.8,621.3 L1000.4,623.4 L1003.1,625.5 L1005.8,627.5 L1008.5,629.6 L1011.2,631.6 L1014.0,633.7 L1016.7,635.7 L1019.5,637.7 L1022.2,639.7 L1025.0,641.7 L1027.7,643.7 L1030.5,645.7 L1033.2,647.7 L1036.0,649.7 L1038.7,651.6 L1041.4,653.6 L1044.1,655.5 L1046.8,657.5 L1049.4,659.4 L1052.1,661.3 L1054.7,663.2 L1057.3,665.1 L1059.8,667.0 L1062.4,668.9 L1064.8,670.8 L1067.3,672.6 L1069.7,674.5 L1072.1,676.3 L1074.4,678.2 L1076.7,680.0 L1078.9,681.8 L1081.1,683.6 L1083.3,685.5 L1085.4,687.2 L1087.4,689.0 L1089.4,690.8 L1091.3,692.6 L1093.2,694.3 L1095.0,696.1 L1096.7,697.8 L1098.4,699.5 L1100.0,701.3 L1101.6,703.0 L1103.1,704.7 L1104.5,706.3 L1105.9,708.0 L1107.2,709.7 L1108.4,711.4 L1109.6,713.0 L1110.7,714.7 L1111.7,716.3 L1112.7,717.9 L1113.6,719.6 L1114.4,721.2 L1115.2,722.8 L1115.9,724.4 L1116.5,726.1 L1117.1,727.7 L1117.6,729.3 L1118.1,731.0 L1118.4,732.6 L1118.8,734.3 L1119.0,736.0 L1118.8,737.7 L1118.4,739.4 L1118.1,741.0 L1117.6,742.7 L1117.4,743.5 L1134.0,746.5 L1134.1,745.3 L1134.2,743.0 L1134.2,740.6 L1134.2,738.3 L1134.0,736.0 L1134.2,733.7 L1134.2,731.4 L1134.2,729.0 L1134.1,726.7 L1133.8,724.3 L1133.5,721.9 L1133.1,719.6 L1132.6,717.2 L1132.0,714.8 L1131.3,712.4 L1130.5,710.1 L1129.6,707.7 L1128.7,705.3 L1127.6,703.0 L1126.5,700.6 L1125.3,698.3 L1124.0,696.0 L1122.6,693.7 L1121.2,691.3 L1119.7,689.0 L1118.1,686.7 L1116.4,684.5 L1114.7,682.2 L1112.9,679.9 L1111.1,677.7 L1109.2,675.4 L1107.2,673.2 L1105.2,671.0 L1103.1,668.8 L1100.9,666.5 L1098.7,664.4 L1096.5,662.2 L1094.2,660.0 L1091.9,657.8 L1089.5,655.7 L1087.1,653.5 L1084.6,651.4 L1082.2,649.2 L1079.6,647.1 L1077.1,645.0 L1074.5,642.9 L1071.9,640.8 L1069.2,638.7 L1066.6,636.6 L1063.9,634.5 L1061.2,632.5 L1058.5,630.4 L1055.8,628.4 L1053.0,626.3 L1050.3,624.3 L1047.5,622.3 L1044.8,620.3 L1042.0,618.3 L1039.3,616.3 L1036.5,614.3 L1033.8,612.3 L1031.0,610.3 L1028.3,608.4 L1025.6,606.4 L1022.9,604.5 L1020.2,602.5 L1017.6,600.6 L1014.9,598.7 L1012.3,596.8 L1009.7,594.9 L1007.2,593.0 L1004.6,591.1 L1002.2,589.2 L999.7,587.4 L997.3,585.5 L994.9,583.7 L992.6,581.8 L990.3,580.0 L988.1,578.2 L985.9,576.4 L983.7,574.5 L981.6,572.8 L979.6,571.0 L977.6,569.2 L975.7,567.4 L973.8,565.7 L972.0,563.9 L970.3,562.2 L968.6,560.5 L967.0,558.7 L965.4,557.0 L963.9,555.3 L962.5,553.7 L961.1,552.0 L959.8,550.3 L958.6,548.6 L957.4,547.0 L956.3,545.3 L955.3,543.7 L954.3,542.1 L953.4,540.4 L952.6,538.8 L951.8,537.2 L951.1,535.6 L950.5,533.9 L949.9,532.3 L949.4,530.7 L948.9,529.0 L948.6,527.4 L948.2,525.7 L948.0,524.0 L948.2,522.3 L948.6,520.6 L948.9,519.0Z" fill="url(#bk2)"/><path d="M932.8,517.0 L932.8,519.4 L932.8,521.7 L933.0,524.0 L932.8,526.3 L932.8,528.6 L932.8,531.0 L932.9,533.3 L933.2,535.7 L933.5,538.1 L933.9,540.4 L934.4,542.8 L935.0,545.2 L935.7,547.6 L936.5,549.9 L937.4,552.3 L938.3,554.7 L939.4,557.0 L940.5,559.4 L941.7,561.7 L943.0,564.0 L944.4,566.3 L945.8,568.7 L947.3,571.0 L948.9,573.3 L950.6,575.5 L952.3,577.8 L954.1,580.1 L955.9,582.3 L957.8,584.6 L959.8,586.8 L961.8,589.0 L963.9,591.2 L966.1,593.5 L968.3,595.6 L970.5,597.8 L972.8,600.0 L975.1,602.2 L977.5,604.3 L979.9,606.5 L982.4,608.6 L984.8,610.8 L987.4,612.9 L989.9,615.0 L992.5,617.1 L995.1,619.2 L997.8,621.3 L1000.4,623.4 L1003.1,625.5 L1005.8,627.5 L1008.5,629.6 L1011.2,631.6 L1014.0,633.7 L1016.7,635.7 L1019.5,637.7 L1022.2,639.7 L1025.0,641.7 L1027.7,643.7 L1030.5,645.7 L1033.2,647.7 L1036.0,649.7 L1038.7,651.6 L1041.4,653.6 L1044.1,655.5 L1046.8,657.5 L1049.4,659.4 L1052.1,661.3 L1054.7,663.2 L1057.3,665.1 L1059.8,667.0 L1062.4,668.9 L1064.8,670.8 L1067.3,672.6 L1069.7,674.5 L1072.1,676.3 L1074.4,678.2 L1076.7,680.0 L1078.9,681.8 L1081.1,683.6 L1083.3,685.5 L1085.4,687.2 L1087.4,689.0 L1089.4,690.8 L1091.3,692.6 L1093.2,694.3 L1095.0,696.1 L1096.7,697.8 L1098.4,699.5 L1100.0,701.3 L1101.6,703.0 L1103.1,704.7 L1104.5,706.3 L1105.9,708.0 L1107.2,709.7 L1108.4,711.4 L1109.6,713.0 L1110.7,714.7 L1111.7,716.3 L1112.7,717.9 L1113.6,719.6 L1114.4,721.2 L1115.2,722.8 L1115.9,724.4 L1116.5,726.1 L1117.1,727.7 L1117.6,729.3 L1118.1,731.0 L1118.4,732.6 L1118.8,734.3 L1119.0,736.0 L1118.8,737.7 L1118.4,739.4 L1118.1,741.0 L1117.6,742.7 L1117.4,743.5" fill="none" stroke="#1a2c44" stroke-width="2.6"/><path d="M948.9,519.0 L948.6,520.6 L948.2,522.3 L948.0,524.0 L948.2,525.7 L948.6,527.4 L948.9,529.0 L949.4,530.7 L949.9,532.3 L950.5,533.9 L951.1,535.6 L951.8,537.2 L952.6,538.8 L953.4,540.4 L954.3,542.1 L955.3,543.7 L956.3,545.3 L957.4,547.0 L958.6,548.6 L959.8,550.3 L961.1,552.0 L962.5,553.7 L963.9,555.3 L965.4,557.0 L967.0,558.7 L968.6,560.5 L970.3,562.2 L972.0,563.9 L973.8,565.7 L975.7,567.4 L977.6,569.2 L979.6,571.0 L981.6,572.8 L983.7,574.5 L985.9,576.4 L988.1,578.2 L990.3,580.0 L992.6,581.8 L994.9,583.7 L997.3,585.5 L999.7,587.4 L1002.2,589.2 L1004.6,591.1 L1007.2,593.0 L1009.7,594.9 L1012.3,596.8 L1014.9,598.7 L1017.6,600.6 L1020.2,602.5 L1022.9,604.5 L1025.6,606.4 L1028.3,608.4 L1031.0,610.3 L1033.8,612.3 L1036.5,614.3 L1039.3,616.3 L1042.0,618.3 L1044.8,620.3 L1047.5,622.3 L1050.3,624.3 L1053.0,626.3 L1055.8,628.4 L1058.5,630.4 L1061.2,632.5 L1063.9,634.5 L1066.6,636.6 L1069.2,638.7 L1071.9,640.8 L1074.5,642.9 L1077.1,645.0 L1079.6,647.1 L1082.2,649.2 L1084.6,651.4 L1087.1,653.5 L1089.5,655.7 L1091.9,657.8 L1094.2,660.0 L1096.5,662.2 L1098.7,664.4 L1100.9,666.5 L1103.1,668.8 L1105.2,671.0 L1107.2,673.2 L1109.2,675.4 L1111.1,677.7 L1112.9,679.9 L1114.7,682.2 L1116.4,684.5 L1118.1,686.7 L1119.7,689.0 L1121.2,691.3 L1122.6,693.7 L1124.0,696.0 L1125.3,698.3 L1126.5,700.6 L1127.6,703.0 L1128.7,705.3 L1129.6,707.7 L1130.5,710.1 L1131.3,712.4 L1132.0,714.8 L1132.6,717.2 L1133.1,719.6 L1133.5,721.9 L1133.8,724.3 L1134.1,726.7 L1134.2,729.0 L1134.2,731.4 L1134.2,733.7 L1134.0,736.0 L1134.2,738.3 L1134.2,740.6 L1134.2,743.0 L1134.1,745.3 L1134.0,746.5" fill="none" stroke="#1a2c44" stroke-width="2.6"/><path d="M932.8,517.0 L932.8,519.4 L932.8,521.7 L933.0,524.0 L932.8,526.3 L932.8,528.6 L932.8,531.0 L932.9,533.3 L933.2,535.7 L933.5,538.1 L933.9,540.4 L934.4,542.8 L935.0,545.2 L935.7,547.6 L936.5,549.9 L937.4,552.3 L938.3,554.7 L939.4,557.0 L940.5,559.4 L941.7,561.7 L943.0,564.0 L944.4,566.3 L945.8,568.7 L947.3,571.0 L948.9,573.3 L950.6,575.5 L952.3,577.8 L954.1,580.1 L955.9,582.3 L957.8,584.6 L959.8,586.8 L961.8,589.0 L963.9,591.2 L966.1,593.5 L968.3,595.6 L970.5,597.8 L972.8,600.0 L975.1,602.2 L977.5,604.3 L979.9,606.5 L982.4,608.6 L984.8,610.8 L987.4,612.9 L989.9,615.0 L992.5,617.1 L995.1,619.2 L997.8,621.3 L1000.4,623.4 L1003.1,625.5 L1005.8,627.5 L1008.5,629.6 L1011.2,631.6 L1014.0,633.7 L1016.7,635.7 L1019.5,637.7 L1022.2,639.7 L1025.0,641.7 L1027.7,643.7 L1030.5,645.7 L1033.2,647.7 L1036.0,649.7 L1038.7,651.6 L1041.4,653.6 L1044.1,655.5 L1046.8,657.5 L1049.4,659.4 L1052.1,661.3 L1054.7,663.2 L1057.3,665.1 L1059.8,667.0 L1062.4,668.9 L1064.8,670.8 L1067.3,672.6 L1069.7,674.5 L1072.1,676.3 L1074.4,678.2 L1076.7,680.0 L1078.9,681.8 L1081.1,683.6 L1083.3,685.5 L1085.4,687.2 L1087.4,689.0 L1089.4,690.8 L1091.3,692.6 L1093.2,694.3 L1095.0,696.1 L1096.7,697.8 L1098.4,699.5 L1100.0,701.3 L1101.6,703.0 L1103.1,704.7 L1104.5,706.3 L1105.9,708.0 L1107.2,709.7 L1108.4,711.4 L1109.6,713.0 L1110.7,714.7 L1111.7,716.3 L1112.7,717.9 L1113.6,719.6 L1114.4,721.2 L1115.2,722.8 L1115.9,724.4 L1116.5,726.1 L1117.1,727.7 L1117.6,729.3 L1118.1,731.0 L1118.4,732.6 L1118.8,734.3 L1119.0,736.0 L1118.8,737.7 L1118.4,739.4 L1118.1,741.0 L1117.6,742.7 L1117.4,743.5 L1134.0,746.5 L1134.1,745.3 L1134.2,743.0 L1134.2,740.6 L1134.2,738.3 L1134.0,736.0 L1134.2,733.7 L1134.2,731.4 L1134.2,729.0 L1134.1,726.7 L1133.8,724.3 L1133.5,721.9 L1133.1,719.6 L1132.6,717.2 L1132.0,714.8 L1131.3,712.4 L1130.5,710.1 L1129.6,707.7 L1128.7,705.3 L1127.6,703.0 L1126.5,700.6 L1125.3,698.3 L1124.0,696.0 L1122.6,693.7 L1121.2,691.3 L1119.7,689.0 L1118.1,686.7 L1116.4,684.5 L1114.7,682.2 L1112.9,679.9 L1111.1,677.7 L1109.2,675.4 L1107.2,673.2 L1105.2,671.0 L1103.1,668.8 L1100.9,666.5 L1098.7,664.4 L1096.5,662.2 L1094.2,660.0 L1091.9,657.8 L1089.5,655.7 L1087.1,653.5 L1084.6,651.4 L1082.2,649.2 L1079.6,647.1 L1077.1,645.0 L1074.5,642.9 L1071.9,640.8 L1069.2,638.7 L1066.6,636.6 L1063.9,634.5 L1061.2,632.5 L1058.5,630.4 L1055.8,628.4 L1053.0,626.3 L1050.3,624.3 L1047.5,622.3 L1044.8,620.3 L1042.0,618.3 L1039.3,616.3 L1036.5,614.3 L1033.8,612.3 L1031.0,610.3 L1028.3,608.4 L1025.6,606.4 L1022.9,604.5 L1020.2,602.5 L1017.6,600.6 L1014.9,598.7 L1012.3,596.8 L1009.7,594.9 L1007.2,593.0 L1004.6,591.1 L1002.2,589.2 L999.7,587.4 L997.3,585.5 L994.9,583.7 L992.6,581.8 L990.3,580.0 L988.1,578.2 L985.9,576.4 L983.7,574.5 L981.6,572.8 L979.6,571.0 L977.6,569.2 L975.7,567.4 L973.8,565.7 L972.0,563.9 L970.3,562.2 L968.6,560.5 L967.0,558.7 L965.4,557.0 L963.9,555.3 L962.5,553.7 L961.1,552.0 L959.8,550.3 L958.6,548.6 L957.4,547.0 L956.3,545.3 L955.3,543.7 L954.3,542.1 L953.4,540.4 L952.6,538.8 L951.8,537.2 L951.1,535.6 L950.5,533.9 L949.9,532.3 L949.4,530.7 L948.9,529.0 L948.6,527.4 L948.2,525.7 L948.0,524.0 L948.2,522.3 L948.6,520.6 L948.9,519.0Z" fill="url(#hb)" mask="url(#mk2)" opacity="0.55"/>
<path d="M932.8,729.0 L932.8,731.4 L932.8,733.7 L933.0,736.0 L932.8,738.3 L932.8,740.6 L932.8,743.0 L932.9,745.3 L933.2,747.7 L933.5,750.1 L933.9,752.4 L934.4,754.8 L935.0,757.2 L935.7,759.6 L936.5,761.9 L937.4,764.3 L938.3,766.7 L939.4,769.0 L940.5,771.4 L941.7,773.7 L943.0,776.0 L944.4,778.3 L945.8,780.7 L947.3,783.0 L948.9,785.3 L950.6,787.5 L952.3,789.8 L954.1,792.1 L955.9,794.3 L957.8,796.6 L959.8,798.8 L961.8,801.0 L963.9,803.2 L966.1,805.5 L968.3,807.6 L970.5,809.8 L972.8,812.0 L975.1,814.2 L977.5,816.3 L979.9,818.5 L982.4,820.6 L984.8,822.8 L987.4,824.9 L989.9,827.0 L992.5,829.1 L995.1,831.2 L997.8,833.3 L1000.4,835.4 L1003.1,837.5 L1005.8,839.5 L1008.5,841.6 L1011.2,843.6 L1014.0,845.7 L1016.7,847.7 L1019.5,849.7 L1022.2,851.7 L1025.0,853.7 L1027.7,855.7 L1030.5,857.7 L1033.2,859.7 L1036.0,861.7 L1038.7,863.6 L1041.4,865.6 L1044.1,867.5 L1046.8,869.5 L1049.4,871.4 L1052.1,873.3 L1054.7,875.2 L1057.3,877.1 L1059.8,879.0 L1062.4,880.9 L1064.8,882.8 L1067.3,884.6 L1069.7,886.5 L1072.1,888.3 L1074.4,890.2 L1076.7,892.0 L1078.9,893.8 L1081.1,895.6 L1083.3,897.5 L1085.4,899.2 L1087.4,901.0 L1089.4,902.8 L1091.3,904.6 L1093.2,906.3 L1095.0,908.1 L1096.7,909.8 L1098.4,911.5 L1100.0,913.3 L1101.6,915.0 L1103.1,916.7 L1104.5,918.3 L1105.9,920.0 L1107.2,921.7 L1108.4,923.4 L1109.6,925.0 L1110.7,926.7 L1111.7,928.3 L1112.7,929.9 L1113.6,931.6 L1114.4,933.2 L1115.2,934.8 L1115.9,936.4 L1116.5,938.1 L1118.0,939.5 L1119.4,941.0 L1120.8,942.7 L1122.0,944.4 L1123.2,946.1 L1124.3,948.0 L1125.2,949.9 L1126.1,952.0 L1127.1,954.1 L1128.2,956.4 L1129.3,958.8 L1130.7,961.4 L1131.6,964.0 L1133.1,964.4 L1133.5,962.1 L1133.8,959.7 L1134.1,957.3 L1134.2,955.0 L1134.2,952.6 L1134.2,950.3 L1134.0,948.0 L1134.2,945.7 L1134.2,943.4 L1134.2,941.0 L1134.1,938.7 L1133.8,936.3 L1133.5,933.9 L1133.1,931.6 L1132.6,929.2 L1132.0,926.8 L1131.3,924.4 L1130.5,922.1 L1129.6,919.7 L1128.7,917.3 L1127.6,915.0 L1126.5,912.6 L1125.3,910.3 L1124.0,908.0 L1122.6,905.7 L1121.2,903.3 L1119.7,901.0 L1118.1,898.7 L1116.4,896.5 L1114.7,894.2 L1112.9,891.9 L1111.1,889.7 L1109.2,887.4 L1107.2,885.2 L1105.2,883.0 L1103.1,880.8 L1100.9,878.5 L1098.7,876.4 L1096.5,874.2 L1094.2,872.0 L1091.9,869.8 L1089.5,867.7 L1087.1,865.5 L1084.6,863.4 L1082.2,861.2 L1079.6,859.1 L1077.1,857.0 L1074.5,854.9 L1071.9,852.8 L1069.2,850.7 L1066.6,848.6 L1063.9,846.5 L1061.2,844.5 L1058.5,842.4 L1055.8,840.4 L1053.0,838.3 L1050.3,836.3 L1047.5,834.3 L1044.8,832.3 L1042.0,830.3 L1039.3,828.3 L1036.5,826.3 L1033.8,824.3 L1031.0,822.3 L1028.3,820.4 L1025.6,818.4 L1022.9,816.5 L1020.2,814.5 L1017.6,812.6 L1014.9,810.7 L1012.3,808.8 L1009.7,806.9 L1007.2,805.0 L1004.6,803.1 L1002.2,801.2 L999.7,799.4 L997.3,797.5 L994.9,795.7 L992.6,793.8 L990.3,792.0 L988.1,790.2 L985.9,788.4 L983.7,786.5 L981.6,784.8 L979.6,783.0 L977.6,781.2 L975.7,779.4 L973.8,777.7 L972.0,775.9 L970.3,774.2 L968.6,772.5 L967.0,770.7 L965.4,769.0 L963.9,767.3 L962.5,765.7 L961.1,764.0 L959.8,762.3 L958.6,760.6 L957.4,759.0 L956.3,757.3 L955.3,755.7 L954.3,754.1 L953.4,752.4 L952.6,750.8 L951.8,749.2 L951.1,747.6 L950.5,745.9 L949.9,744.3 L949.4,742.7 L948.9,741.0 L948.6,739.4 L948.2,737.7 L948.0,736.0 L948.2,734.3 L948.6,732.6 L948.9,731.0Z" fill="url(#bk3)"/><path d="M932.8,729.0 L932.8,731.4 L932.8,733.7 L933.0,736.0 L932.8,738.3 L932.8,740.6 L932.8,743.0 L932.9,745.3 L933.2,747.7 L933.5,750.1 L933.9,752.4 L934.4,754.8 L935.0,757.2 L935.7,759.6 L936.5,761.9 L937.4,764.3 L938.3,766.7 L939.4,769.0 L940.5,771.4 L941.7,773.7 L943.0,776.0 L944.4,778.3 L945.8,780.7 L947.3,783.0 L948.9,785.3 L950.6,787.5 L952.3,789.8 L954.1,792.1 L955.9,794.3 L957.8,796.6 L959.8,798.8 L961.8,801.0 L963.9,803.2 L966.1,805.5 L968.3,807.6 L970.5,809.8 L972.8,812.0 L975.1,814.2 L977.5,816.3 L979.9,818.5 L982.4,820.6 L984.8,822.8 L987.4,824.9 L989.9,827.0 L992.5,829.1 L995.1,831.2 L997.8,833.3 L1000.4,835.4 L1003.1,837.5 L1005.8,839.5 L1008.5,841.6 L1011.2,843.6 L1014.0,845.7 L1016.7,847.7 L1019.5,849.7 L1022.2,851.7 L1025.0,853.7 L1027.7,855.7 L1030.5,857.7 L1033.2,859.7 L1036.0,861.7 L1038.7,863.6 L1041.4,865.6 L1044.1,867.5 L1046.8,869.5 L1049.4,871.4 L1052.1,873.3 L1054.7,875.2 L1057.3,877.1 L1059.8,879.0 L1062.4,880.9 L1064.8,882.8 L1067.3,884.6 L1069.7,886.5 L1072.1,888.3 L1074.4,890.2 L1076.7,892.0 L1078.9,893.8 L1081.1,895.6 L1083.3,897.5 L1085.4,899.2 L1087.4,901.0 L1089.4,902.8 L1091.3,904.6 L1093.2,906.3 L1095.0,908.1 L1096.7,909.8 L1098.4,911.5 L1100.0,913.3 L1101.6,915.0 L1103.1,916.7 L1104.5,918.3 L1105.9,920.0 L1107.2,921.7 L1108.4,923.4 L1109.6,925.0 L1110.7,926.7 L1111.7,928.3 L1112.7,929.9 L1113.6,931.6 L1114.4,933.2 L1115.2,934.8 L1115.9,936.4 L1116.5,938.1 L1118.0,939.5 L1119.4,941.0 L1120.8,942.7 L1122.0,944.4 L1123.2,946.1 L1124.3,948.0 L1125.2,949.9 L1126.1,952.0 L1127.1,954.1 L1128.2,956.4 L1129.3,958.8 L1130.7,961.4 L1131.6,964.0" fill="none" stroke="#3d3826" stroke-width="2.6"/><path d="M948.9,731.0 L948.6,732.6 L948.2,734.3 L948.0,736.0 L948.2,737.7 L948.6,739.4 L948.9,741.0 L949.4,742.7 L949.9,744.3 L950.5,745.9 L951.1,747.6 L951.8,749.2 L952.6,750.8 L953.4,752.4 L954.3,754.1 L955.3,755.7 L956.3,757.3 L957.4,759.0 L958.6,760.6 L959.8,762.3 L961.1,764.0 L962.5,765.7 L963.9,767.3 L965.4,769.0 L967.0,770.7 L968.6,772.5 L970.3,774.2 L972.0,775.9 L973.8,777.7 L975.7,779.4 L977.6,781.2 L979.6,783.0 L981.6,784.8 L983.7,786.5 L985.9,788.4 L988.1,790.2 L990.3,792.0 L992.6,793.8 L994.9,795.7 L997.3,797.5 L999.7,799.4 L1002.2,801.2 L1004.6,803.1 L1007.2,805.0 L1009.7,806.9 L1012.3,808.8 L1014.9,810.7 L1017.6,812.6 L1020.2,814.5 L1022.9,816.5 L1025.6,818.4 L1028.3,820.4 L1031.0,822.3 L1033.8,824.3 L1036.5,826.3 L1039.3,828.3 L1042.0,830.3 L1044.8,832.3 L1047.5,834.3 L1050.3,836.3 L1053.0,838.3 L1055.8,840.4 L1058.5,842.4 L1061.2,844.5 L1063.9,846.5 L1066.6,848.6 L1069.2,850.7 L1071.9,852.8 L1074.5,854.9 L1077.1,857.0 L1079.6,859.1 L1082.2,861.2 L1084.6,863.4 L1087.1,865.5 L1089.5,867.7 L1091.9,869.8 L1094.2,872.0 L1096.5,874.2 L1098.7,876.4 L1100.9,878.5 L1103.1,880.8 L1105.2,883.0 L1107.2,885.2 L1109.2,887.4 L1111.1,889.7 L1112.9,891.9 L1114.7,894.2 L1116.4,896.5 L1118.1,898.7 L1119.7,901.0 L1121.2,903.3 L1122.6,905.7 L1124.0,908.0 L1125.3,910.3 L1126.5,912.6 L1127.6,915.0 L1128.7,917.3 L1129.6,919.7 L1130.5,922.1 L1131.3,924.4 L1132.0,926.8 L1132.6,929.2 L1133.1,931.6 L1133.5,933.9 L1133.8,936.3 L1134.1,938.7 L1134.2,941.0 L1134.2,943.4 L1134.2,945.7 L1134.0,948.0 L1134.2,950.3 L1134.2,952.6 L1134.2,955.0 L1134.1,957.3 L1133.8,959.7 L1133.5,962.1 L1133.1,964.4" fill="none" stroke="#3d3826" stroke-width="2.6"/><path d="M932.8,729.0 L932.8,731.4 L932.8,733.7 L933.0,736.0 L932.8,738.3 L932.8,740.6 L932.8,743.0 L932.9,745.3 L933.2,747.7 L933.5,750.1 L933.9,752.4 L934.4,754.8 L935.0,757.2 L935.7,759.6 L936.5,761.9 L937.4,764.3 L938.3,766.7 L939.4,769.0 L940.5,771.4 L941.7,773.7 L943.0,776.0 L944.4,778.3 L945.8,780.7 L947.3,783.0 L948.9,785.3 L950.6,787.5 L952.3,789.8 L954.1,792.1 L955.9,794.3 L957.8,796.6 L959.8,798.8 L961.8,801.0 L963.9,803.2 L966.1,805.5 L968.3,807.6 L970.5,809.8 L972.8,812.0 L975.1,814.2 L977.5,816.3 L979.9,818.5 L982.4,820.6 L984.8,822.8 L987.4,824.9 L989.9,827.0 L992.5,829.1 L995.1,831.2 L997.8,833.3 L1000.4,835.4 L1003.1,837.5 L1005.8,839.5 L1008.5,841.6 L1011.2,843.6 L1014.0,845.7 L1016.7,847.7 L1019.5,849.7 L1022.2,851.7 L1025.0,853.7 L1027.7,855.7 L1030.5,857.7 L1033.2,859.7 L1036.0,861.7 L1038.7,863.6 L1041.4,865.6 L1044.1,867.5 L1046.8,869.5 L1049.4,871.4 L1052.1,873.3 L1054.7,875.2 L1057.3,877.1 L1059.8,879.0 L1062.4,880.9 L1064.8,882.8 L1067.3,884.6 L1069.7,886.5 L1072.1,888.3 L1074.4,890.2 L1076.7,892.0 L1078.9,893.8 L1081.1,895.6 L1083.3,897.5 L1085.4,899.2 L1087.4,901.0 L1089.4,902.8 L1091.3,904.6 L1093.2,906.3 L1095.0,908.1 L1096.7,909.8 L1098.4,911.5 L1100.0,913.3 L1101.6,915.0 L1103.1,916.7 L1104.5,918.3 L1105.9,920.0 L1107.2,921.7 L1108.4,923.4 L1109.6,925.0 L1110.7,926.7 L1111.7,928.3 L1112.7,929.9 L1113.6,931.6 L1114.4,933.2 L1115.2,934.8 L1115.9,936.4 L1116.5,938.1 L1118.0,939.5 L1119.4,941.0 L1120.8,942.7 L1122.0,944.4 L1123.2,946.1 L1124.3,948.0 L1125.2,949.9 L1126.1,952.0 L1127.1,954.1 L1128.2,956.4 L1129.3,958.8 L1130.7,961.4 L1131.6,964.0 L1133.1,964.4 L1133.5,962.1 L1133.8,959.7 L1134.1,957.3 L1134.2,955.0 L1134.2,952.6 L1134.2,950.3 L1134.0,948.0 L1134.2,945.7 L1134.2,943.4 L1134.2,941.0 L1134.1,938.7 L1133.8,936.3 L1133.5,933.9 L1133.1,931.6 L1132.6,929.2 L1132.0,926.8 L1131.3,924.4 L1130.5,922.1 L1129.6,919.7 L1128.7,917.3 L1127.6,915.0 L1126.5,912.6 L1125.3,910.3 L1124.0,908.0 L1122.6,905.7 L1121.2,903.3 L1119.7,901.0 L1118.1,898.7 L1116.4,896.5 L1114.7,894.2 L1112.9,891.9 L1111.1,889.7 L1109.2,887.4 L1107.2,885.2 L1105.2,883.0 L1103.1,880.8 L1100.9,878.5 L1098.7,876.4 L1096.5,874.2 L1094.2,872.0 L1091.9,869.8 L1089.5,867.7 L1087.1,865.5 L1084.6,863.4 L1082.2,861.2 L1079.6,859.1 L1077.1,857.0 L1074.5,854.9 L1071.9,852.8 L1069.2,850.7 L1066.6,848.6 L1063.9,846.5 L1061.2,844.5 L1058.5,842.4 L1055.8,840.4 L1053.0,838.3 L1050.3,836.3 L1047.5,834.3 L1044.8,832.3 L1042.0,830.3 L1039.3,828.3 L1036.5,826.3 L1033.8,824.3 L1031.0,822.3 L1028.3,820.4 L1025.6,818.4 L1022.9,816.5 L1020.2,814.5 L1017.6,812.6 L1014.9,810.7 L1012.3,808.8 L1009.7,806.9 L1007.2,805.0 L1004.6,803.1 L1002.2,801.2 L999.7,799.4 L997.3,797.5 L994.9,795.7 L992.6,793.8 L990.3,792.0 L988.1,790.2 L985.9,788.4 L983.7,786.5 L981.6,784.8 L979.6,783.0 L977.6,781.2 L975.7,779.4 L973.8,777.7 L972.0,775.9 L970.3,774.2 L968.6,772.5 L967.0,770.7 L965.4,769.0 L963.9,767.3 L962.5,765.7 L961.1,764.0 L959.8,762.3 L958.6,760.6 L957.4,759.0 L956.3,757.3 L955.3,755.7 L954.3,754.1 L953.4,752.4 L952.6,750.8 L951.8,749.2 L951.1,747.6 L950.5,745.9 L949.9,744.3 L949.4,742.7 L948.9,741.0 L948.6,739.4 L948.2,737.7 L948.0,736.0 L948.2,734.3 L948.6,732.6 L948.9,731.0Z" fill="url(#hb)" mask="url(#mk3)" opacity="0.55"/>
<rect x="947.0" y="311.5" width="82.0" height="11" rx="5" fill="#7b8da4" stroke="#1f2b3a" stroke-width="1.8"/>
<rect x="1040.0" y="311.5" width="79.0" height="11" rx="5" fill="#cbb47a" stroke="#1f2b3a" stroke-width="1.8"/>
<rect x="1027" y="311.5" width="14" height="11" fill="#f5f5f1"/><line x1="1027" y1="311" x2="1041" y2="311" stroke="#1f2b3a" stroke-width="1.6"/><line x1="1027" y1="323" x2="1041" y2="323" stroke="#1f2b3a" stroke-width="1.6"/><path d="M1041,312 Q1035,317 1041,322" fill="none" stroke="#1f2b3a" stroke-width="1.4"/>
<rect x="957.0" y="346.5" width="72.0" height="11" rx="5" fill="#7b8da4" stroke="#1f2b3a" stroke-width="1.8"/>
<rect x="1040.0" y="346.5" width="61.0" height="11" rx="5" fill="#cbb47a" stroke="#1f2b3a" stroke-width="1.8"/>
<rect x="1027" y="346.5" width="14" height="11" fill="#f5f5f1"/><line x1="1027" y1="346" x2="1041" y2="346" stroke="#1f2b3a" stroke-width="1.6"/><line x1="1027" y1="358" x2="1041" y2="358" stroke="#1f2b3a" stroke-width="1.6"/><path d="M1041,347 Q1035,352 1041,357" fill="none" stroke="#1f2b3a" stroke-width="1.4"/>
<rect x="985.0" y="378.5" width="44.0" height="11" rx="5" fill="#7b8da4" stroke="#1f2b3a" stroke-width="1.8"/>
<rect x="1040.0" y="378.5" width="28.0" height="11" rx="5" fill="#cbb47a" stroke="#1f2b3a" stroke-width="1.8"/>
<rect x="1027" y="378.5" width="14" height="11" fill="#f5f5f1"/><line x1="1027" y1="378" x2="1041" y2="378" stroke="#1f2b3a" stroke-width="1.6"/><line x1="1027" y1="390" x2="1041" y2="390" stroke="#1f2b3a" stroke-width="1.6"/><path d="M1041,379 Q1035,384 1041,389" fill="none" stroke="#1f2b3a" stroke-width="1.4"/>
<rect x="1000.0" y="449.5" width="29.0" height="11" rx="5" fill="#7b8da4" stroke="#1f2b3a" stroke-width="1.8"/>
<rect x="1040.0" y="449.5" width="40.0" height="11" rx="5" fill="#cbb47a" stroke="#1f2b3a" stroke-width="1.8"/>
<rect x="1027" y="449.5" width="14" height="11" fill="#f5f5f1"/><line x1="1027" y1="449" x2="1041" y2="449" stroke="#1f2b3a" stroke-width="1.6"/><line x1="1027" y1="461" x2="1041" y2="461" stroke="#1f2b3a" stroke-width="1.6"/><path d="M1041,450 Q1035,455 1041,460" fill="none" stroke="#1f2b3a" stroke-width="1.4"/>
<rect x="972.0" y="477.5" width="56.0" height="11" rx="5" fill="#7b8da4" stroke="#1f2b3a" stroke-width="1.8"/>
<rect x="1039.0" y="477.5" width="68.0" height="11" rx="5" fill="#cbb47a" stroke="#1f2b3a" stroke-width="1.8"/>
<rect x="1026" y="477.5" width="14" height="11" fill="#f5f5f1"/><line x1="1026" y1="477" x2="1040" y2="477" stroke="#1f2b3a" stroke-width="1.6"/><line x1="1026" y1="489" x2="1040" y2="489" stroke="#1f2b3a" stroke-width="1.6"/><path d="M1040,478 Q1034,483 1040,488" fill="none" stroke="#1f2b3a" stroke-width="1.4"/>
<rect x="948.0" y="512.5" width="52.0" height="11" rx="5" fill="#7b8da4" stroke="#1f2b3a" stroke-width="1.8"/>
<rect x="1008.0" y="512.5" width="22.0" height="11" rx="5" fill="#dcb86a" stroke="#1f2b3a" stroke-width="1.8"/>
<rect x="1045.0" y="512.5" width="76.0" height="11" rx="5" fill="#cf7d86" stroke="#1f2b3a" stroke-width="1.8"/>
<rect x="1024" y="512.5" width="14" height="11" fill="#f5f5f1"/><line x1="1024" y1="512" x2="1038" y2="512" stroke="#1f2b3a" stroke-width="1.6"/><line x1="1024" y1="524" x2="1038" y2="524" stroke="#1f2b3a" stroke-width="1.6"/><path d="M1038,513 Q1032,518 1038,523" fill="none" stroke="#1f2b3a" stroke-width="1.4"/>
<rect x="994" y="505" width="21" height="26" rx="2" fill="#dcb86a" stroke="#1f2b3a" stroke-width="1.5"/>
<rect x="1039" y="505" width="30" height="26" rx="2" fill="#cf7d86" stroke="#1f2b3a" stroke-width="1.5"/>
<text x="1004.5" y="526" font-size="22" text-anchor="middle" fill="#4a3a20" font-family="Liberation Sans">C</text>
<text x="1054" y="526" font-size="22" text-anchor="middle" fill="#5a1e2a" font-family="Liberation Sans">C</text>
<rect x="954.0" y="546.5" width="46.0" height="11" rx="5" fill="#7b8da4" stroke="#1f2b3a" stroke-width="1.8"/>
<rect x="1040.0" y="546.5" width="66.0" height="11" rx="5" fill="#cbb47a" stroke="#1f2b3a" stroke-width="1.8"/>
<text x="1016" y="563" font-size="27" text-anchor="middle" fill="#1b2c44" font-family="Liberation Sans" stroke="#1b2c44" stroke-width="0.6">A</text>
<rect x="980.0" y="581.5" width="48.0" height="11" rx="5" fill="#7b8da4" stroke="#1f2b3a" stroke-width="1.8"/>
<rect x="1039.0" y="581.5" width="32.0" height="11" rx="5" fill="#cbb47a" stroke="#1f2b3a" stroke-width="1.8"/>
<rect x="1026" y="581.5" width="14" height="11" fill="#f5f5f1"/><line x1="1026" y1="581" x2="1040" y2="581" stroke="#1f2b3a" stroke-width="1.6"/><line x1="1026" y1="593" x2="1040" y2="593" stroke="#1f2b3a" stroke-width="1.6"/><path d="M1040,582 Q1034,587 1040,592" fill="none" stroke="#1f2b3a" stroke-width="1.4"/>
<rect x="995.0" y="660.5" width="36.0" height="11" rx="5" fill="#7b8da4" stroke="#1f2b3a" stroke-width="1.8"/>
<rect x="1042.0" y="660.5" width="47.0" height="11" rx="5" fill="#cbb47a" stroke="#1f2b3a" stroke-width="1.8"/>
<rect x="1029" y="660.5" width="14" height="11" fill="#f5f5f1"/><line x1="1029" y1="660" x2="1043" y2="660" stroke="#1f2b3a" stroke-width="1.6"/><line x1="1029" y1="672" x2="1043" y2="672" stroke="#1f2b3a" stroke-width="1.6"/><path d="M1043,661 Q1037,666 1043,671" fill="none" stroke="#1f2b3a" stroke-width="1.4"/>
<rect x="964.0" y="695.5" width="64.0" height="11" rx="5" fill="#cbb47a" stroke="#1f2b3a" stroke-width="1.8"/>
<rect x="1066.0" y="695.5" width="48.0" height="11" rx="5" fill="#7b8da4" stroke="#1f2b3a" stroke-width="1.8"/>
<text x="1051" y="712" font-size="29" text-anchor="middle" fill="#1b2c44" font-family="Liberation Sans" stroke="#1b2c44" stroke-width="1">C</text>
<rect x="948.0" y="729.5" width="83.0" height="11" rx="5" fill="#7b8da4" stroke="#1f2b3a" stroke-width="1.8"/>
<rect x="1042.0" y="729.5" width="75.0" height="11" rx="5" fill="#cbb47a" stroke="#1f2b3a" stroke-width="1.8"/>
<rect x="1029" y="729.5" width="14" height="11" fill="#f5f5f1"/><line x1="1029" y1="729" x2="1043" y2="729" stroke="#1f2b3a" stroke-width="1.6"/><line x1="1029" y1="741" x2="1043" y2="741" stroke="#1f2b3a" stroke-width="1.6"/><path d="M1043,730 Q1037,735 1043,740" fill="none" stroke="#1f2b3a" stroke-width="1.4"/>
<rect x="1053.5" y="722" width="20.5" height="26" rx="2" fill="#d98f86" stroke="#8a3a3a" stroke-width="1.5"/>
<text x="1063.8" y="743" font-size="22" text-anchor="middle" fill="#8a2a35" font-family="Liberation Sans">A</text>
<rect x="957.0" y="763.5" width="45.0" height="11" rx="5" fill="#7b8da4" stroke="#1f2b3a" stroke-width="1.8"/>
<rect x="1041.0" y="763.5" width="57.0" height="11" rx="5" fill="#cbb47a" stroke="#1f2b3a" stroke-width="1.8"/>
<text x="1016" y="780" font-size="27" text-anchor="middle" fill="#1b2c44" font-family="Liberation Sans" stroke="#1b2c44" stroke-width="0.6">A</text>
<rect x="986.0" y="792.5" width="42.0" height="11" rx="5" fill="#7b8da4" stroke="#1f2b3a" stroke-width="1.8"/>
<rect x="1039.0" y="792.5" width="21.0" height="11" rx="5" fill="#cbb47a" stroke="#1f2b3a" stroke-width="1.8"/>
<rect x="1026" y="792.5" width="14" height="11" fill="#f5f5f1"/><line x1="1026" y1="792" x2="1040" y2="792" stroke="#1f2b3a" stroke-width="1.6"/><line x1="1026" y1="804" x2="1040" y2="804" stroke="#1f2b3a" stroke-width="1.6"/><path d="M1040,793 Q1034,798 1040,803" fill="none" stroke="#1f2b3a" stroke-width="1.4"/>
<rect x="1000.0" y="863.5" width="28.0" height="11" rx="5" fill="#7b8da4" stroke="#1f2b3a" stroke-width="1.8"/>
<rect x="1039.0" y="863.5" width="42.0" height="11" rx="5" fill="#cbb47a" stroke="#1f2b3a" stroke-width="1.8"/>
<rect x="1026" y="863.5" width="14" height="11" fill="#f5f5f1"/><line x1="1026" y1="863" x2="1040" y2="863" stroke="#1f2b3a" stroke-width="1.6"/><line x1="1026" y1="875" x2="1040" y2="875" stroke="#1f2b3a" stroke-width="1.6"/><path d="M1040,864 Q1034,869 1040,874" fill="none" stroke="#1f2b3a" stroke-width="1.4"/>
<rect x="969.0" y="895.5" width="59.0" height="11" rx="5" fill="#7b8da4" stroke="#1f2b3a" stroke-width="1.8"/>
<rect x="1039.0" y="895.5" width="70.0" height="11" rx="5" fill="#cbb47a" stroke="#1f2b3a" stroke-width="1.8"/>
<rect x="1026" y="895.5" width="14" height="11" fill="#f5f5f1"/><line x1="1026" y1="895" x2="1040" y2="895" stroke="#1f2b3a" stroke-width="1.6"/><line x1="1026" y1="907" x2="1040" y2="907" stroke="#1f2b3a" stroke-width="1.6"/><path d="M1040,896 Q1034,901 1040,906" fill="none" stroke="#1f2b3a" stroke-width="1.4"/>
<rect x="951.0" y="930.5" width="80.0" height="11" rx="5" fill="#7b8da4" stroke="#1f2b3a" stroke-width="1.8"/>
<rect x="1042.0" y="930.5" width="81.0" height="11" rx="5" fill="#cbb47a" stroke="#1f2b3a" stroke-width="1.8"/>
<rect x="1029" y="930.5" width="14" height="11" fill="#f5f5f1"/><line x1="1029" y1="930" x2="1043" y2="930" stroke="#1f2b3a" stroke-width="1.6"/><line x1="1029" y1="942" x2="1043" y2="942" stroke="#1f2b3a" stroke-width="1.6"/><path d="M1043,931 Q1037,936 1043,941" fill="none" stroke="#1f2b3a" stroke-width="1.4"/>
<path d="M1129.8,289.0 L1129.1,291.9 L1127.9,294.7 L1126.9,297.3 L1126.1,299.7 L1125.3,302.0 L1124.5,304.2 L1123.7,306.3 L1123.0,308.3 L1122.3,310.2 L1121.5,312.0 L1120.5,313.8 L1119.3,315.4 L1118.1,317.0 L1117.6,318.7 L1117.1,320.3 L1116.5,321.9 L1115.9,323.6 L1115.2,325.2 L1114.4,326.8 L1113.6,328.4 L1112.7,330.1 L1111.7,331.7 L1110.7,333.3 L1109.6,335.0 L1108.4,336.6 L1107.2,338.3 L1105.9,340.0 L1104.5,341.7 L1103.1,343.3 L1101.6,345.0 L1100.0,346.7 L1098.4,348.5 L1096.7,350.2 L1095.0,351.9 L1093.2,353.7 L1091.3,355.4 L1089.4,357.2 L1087.4,359.0 L1085.4,360.8 L1083.3,362.5 L1081.1,364.4 L1078.9,366.2 L1076.7,368.0 L1074.4,369.8 L1072.1,371.7 L1069.7,373.5 L1067.3,375.4 L1064.8,377.2 L1062.4,379.1 L1059.8,381.0 L1057.3,382.9 L1054.7,384.8 L1052.1,386.7 L1049.4,388.6 L1046.8,390.5 L1044.1,392.5 L1041.4,394.4 L1038.7,396.4 L1036.0,398.3 L1033.2,400.3 L1030.5,402.3 L1027.7,404.3 L1025.0,406.3 L1022.2,408.3 L1019.5,410.3 L1016.7,412.3 L1014.0,414.3 L1011.2,416.4 L1008.5,418.4 L1005.8,420.5 L1003.1,422.5 L1000.4,424.6 L997.8,426.7 L995.1,428.8 L992.5,430.9 L989.9,433.0 L987.4,435.1 L984.8,437.2 L982.4,439.4 L979.9,441.5 L977.5,443.7 L975.1,445.8 L972.8,448.0 L970.5,450.2 L968.3,452.4 L966.1,454.5 L963.9,456.8 L961.8,459.0 L959.8,461.2 L957.8,463.4 L955.9,465.7 L954.1,467.9 L952.3,470.2 L950.6,472.5 L948.9,474.7 L947.3,477.0 L945.8,479.3 L944.4,481.7 L943.0,484.0 L941.7,486.3 L940.5,488.6 L939.4,491.0 L938.3,493.3 L937.4,495.7 L936.5,498.1 L935.7,500.4 L935.0,502.8 L934.4,505.2 L933.9,507.6 L933.5,509.9 L933.2,512.3 L932.9,514.7 L932.8,517.0 L932.8,519.4 L932.8,521.7 L933.0,524.0 L948.0,524.0 L948.2,522.3 L948.6,520.6 L948.9,519.0 L949.4,517.3 L949.9,515.7 L950.5,514.1 L951.1,512.4 L951.8,510.8 L952.6,509.2 L953.4,507.6 L954.3,505.9 L955.3,504.3 L956.3,502.7 L957.4,501.0 L958.6,499.4 L959.8,497.7 L961.1,496.0 L962.5,494.3 L963.9,492.7 L965.4,491.0 L967.0,489.3 L968.6,487.5 L970.3,485.8 L972.0,484.1 L973.8,482.3 L975.7,480.6 L977.6,478.8 L979.6,477.0 L981.6,475.2 L983.7,473.5 L985.9,471.6 L988.1,469.8 L990.3,468.0 L992.6,466.2 L994.9,464.3 L997.3,462.5 L999.7,460.6 L1002.2,458.8 L1004.6,456.9 L1007.2,455.0 L1009.7,453.1 L1012.3,451.2 L1014.9,449.3 L1017.6,447.4 L1020.2,445.5 L1022.9,443.5 L1025.6,441.6 L1028.3,439.6 L1031.0,437.7 L1033.8,435.7 L1036.5,433.7 L1039.3,431.7 L1042.0,429.7 L1044.8,427.7 L1047.5,425.7 L1050.3,423.7 L1053.0,421.7 L1055.8,419.6 L1058.5,417.6 L1061.2,415.5 L1063.9,413.5 L1066.6,411.4 L1069.2,409.3 L1071.9,407.2 L1074.5,405.1 L1077.1,403.0 L1079.6,400.9 L1082.2,398.8 L1084.6,396.6 L1087.1,394.5 L1089.5,392.3 L1091.9,390.2 L1094.2,388.0 L1096.5,385.8 L1098.7,383.6 L1100.9,381.5 L1103.1,379.2 L1105.2,377.0 L1107.2,374.8 L1109.2,372.6 L1111.1,370.3 L1112.9,368.1 L1114.7,365.8 L1116.4,363.5 L1118.1,361.3 L1119.7,359.0 L1121.2,356.7 L1122.6,354.3 L1124.0,352.0 L1125.3,349.7 L1126.5,347.4 L1127.6,345.0 L1128.7,342.7 L1129.6,340.3 L1130.5,337.9 L1131.3,335.6 L1132.0,333.2 L1132.6,330.8 L1133.1,328.4 L1133.5,326.1 L1133.8,323.7 L1134.1,321.3 L1134.2,319.0 L1134.2,316.6 L1134.2,314.3 L1134.0,312.0 L1134.2,309.7 L1134.2,307.4 L1134.2,305.0 L1134.1,302.7 L1133.8,300.3 L1133.5,297.9 L1133.1,295.6 L1132.6,293.2 L1132.0,290.8 L1131.3,288.4Z" fill="url(#fb)"/><path d="M1129.8,289.0 L1129.1,291.9 L1127.9,294.7 L1126.9,297.3 L1126.1,299.7 L1125.3,302.0 L1124.5,304.2 L1123.7,306.3 L1123.0,308.3 L1122.3,310.2 L1121.5,312.0 L1120.5,313.8 L1119.3,315.4 L1118.1,317.0 L1117.6,318.7 L1117.1,320.3 L1116.5,321.9 L1115.9,323.6 L1115.2,325.2 L1114.4,326.8 L1113.6,328.4 L1112.7,330.1 L1111.7,331.7 L1110.7,333.3 L1109.6,335.0 L1108.4,336.6 L1107.2,338.3 L1105.9,340.0 L1104.5,341.7 L1103.1,343.3 L1101.6,345.0 L1100.0,346.7 L1098.4,348.5 L1096.7,350.2 L1095.0,351.9 L1093.2,353.7 L1091.3,355.4 L1089.4,357.2 L1087.4,359.0 L1085.4,360.8 L1083.3,362.5 L1081.1,364.4 L1078.9,366.2 L1076.7,368.0 L1074.4,369.8 L1072.1,371.7 L1069.7,373.5 L1067.3,375.4 L1064.8,377.2 L1062.4,379.1 L1059.8,381.0 L1057.3,382.9 L1054.7,384.8 L1052.1,386.7 L1049.4,388.6 L1046.8,390.5 L1044.1,392.5 L1041.4,394.4 L1038.7,396.4 L1036.0,398.3 L1033.2,400.3 L1030.5,402.3 L1027.7,404.3 L1025.0,406.3 L1022.2,408.3 L1019.5,410.3 L1016.7,412.3 L1014.0,414.3 L1011.2,416.4 L1008.5,418.4 L1005.8,420.5 L1003.1,422.5 L1000.4,424.6 L997.8,426.7 L995.1,428.8 L992.5,430.9 L989.9,433.0 L987.4,435.1 L984.8,437.2 L982.4,439.4 L979.9,441.5 L977.5,443.7 L975.1,445.8 L972.8,448.0 L970.5,450.2 L968.3,452.4 L966.1,454.5 L963.9,456.8 L961.8,459.0 L959.8,461.2 L957.8,463.4 L955.9,465.7 L954.1,467.9 L952.3,470.2 L950.6,472.5 L948.9,474.7 L947.3,477.0 L945.8,479.3 L944.4,481.7 L943.0,484.0 L941.7,486.3 L940.5,488.6 L939.4,491.0 L938.3,493.3 L937.4,495.7 L936.5,498.1 L935.7,500.4 L935.0,502.8 L934.4,505.2 L933.9,507.6 L933.5,509.9 L933.2,512.3 L932.9,514.7 L932.8,517.0 L932.8,519.4 L932.8,521.7 L933.0,524.0" fill="none" stroke="#1a2c44" stroke-width="2.6" stroke-linecap="round"/><path d="M1131.3,288.4 L1132.0,290.8 L1132.6,293.2 L1133.1,295.6 L1133.5,297.9 L1133.8,300.3 L1134.1,302.7 L1134.2,305.0 L1134.2,307.4 L1134.2,309.7 L1134.0,312.0 L1134.2,314.3 L1134.2,316.6 L1134.2,319.0 L1134.1,321.3 L1133.8,323.7 L1133.5,326.1 L1133.1,328.4 L1132.6,330.8 L1132.0,333.2 L1131.3,335.6 L1130.5,337.9 L1129.6,340.3 L1128.7,342.7 L1127.6,345.0 L1126.5,347.4 L1125.3,349.7 L1124.0,352.0 L1122.6,354.3 L1121.2,356.7 L1119.7,359.0 L1118.1,361.3 L1116.4,363.5 L1114.7,365.8 L1112.9,368.1 L1111.1,370.3 L1109.2,372.6 L1107.2,374.8 L1105.2,377.0 L1103.1,379.2 L1100.9,381.5 L1098.7,383.6 L1096.5,385.8 L1094.2,388.0 L1091.9,390.2 L1089.5,392.3 L1087.1,394.5 L1084.6,396.6 L1082.2,398.8 L1079.6,400.9 L1077.1,403.0 L1074.5,405.1 L1071.9,407.2 L1069.2,409.3 L1066.6,411.4 L1063.9,413.5 L1061.2,415.5 L1058.5,417.6 L1055.8,419.6 L1053.0,421.7 L1050.3,423.7 L1047.5,425.7 L1044.8,427.7 L1042.0,429.7 L1039.3,431.7 L1036.5,433.7 L1033.8,435.7 L1031.0,437.7 L1028.3,439.6 L1025.6,441.6 L1022.9,443.5 L1020.2,445.5 L1017.6,447.4 L1014.9,449.3 L1012.3,451.2 L1009.7,453.1 L1007.2,455.0 L1004.6,456.9 L1002.2,458.8 L999.7,460.6 L997.3,462.5 L994.9,464.3 L992.6,466.2 L990.3,468.0 L988.1,469.8 L985.9,471.6 L983.7,473.5 L981.6,475.2 L979.6,477.0 L977.6,478.8 L975.7,480.6 L973.8,482.3 L972.0,484.1 L970.3,485.8 L968.6,487.5 L967.0,489.3 L965.4,491.0 L963.9,492.7 L962.5,494.3 L961.1,496.0 L959.8,497.7 L958.6,499.4 L957.4,501.0 L956.3,502.7 L955.3,504.3 L954.3,505.9 L953.4,507.6 L952.6,509.2 L951.8,510.8 L951.1,512.4 L950.5,514.1 L949.9,515.7 L949.4,517.3 L948.9,519.0 L948.6,520.6 L948.2,522.3 L948.0,524.0" fill="none" stroke="#1a2c44" stroke-width="2.6" stroke-linecap="round"/>
<path d="M1118.8,522.3 L1119.0,524.0 L1118.8,525.7 L1118.4,527.4 L1118.1,529.0 L1117.6,530.7 L1117.1,532.3 L1116.5,533.9 L1115.9,535.6 L1115.2,537.2 L1114.4,538.8 L1113.6,540.4 L1112.7,542.1 L1111.7,543.7 L1110.7,545.3 L1109.6,547.0 L1108.4,548.6 L1107.2,550.3 L1105.9,552.0 L1104.5,553.7 L1103.1,555.3 L1101.6,557.0 L1100.0,558.7 L1098.4,560.5 L1096.7,562.2 L1095.0,563.9 L1093.2,565.7 L1091.3,567.4 L1089.4,569.2 L1087.4,571.0 L1085.4,572.8 L1083.3,574.5 L1081.1,576.4 L1078.9,578.2 L1076.7,580.0 L1074.4,581.8 L1072.1,583.7 L1069.7,585.5 L1067.3,587.4 L1064.8,589.2 L1062.4,591.1 L1059.8,593.0 L1057.3,594.9 L1054.7,596.8 L1052.1,598.7 L1049.4,600.6 L1046.8,602.5 L1044.1,604.5 L1041.4,606.4 L1038.7,608.4 L1036.0,610.3 L1033.2,612.3 L1030.5,614.3 L1027.7,616.3 L1025.0,618.3 L1022.2,620.3 L1019.5,622.3 L1016.7,624.3 L1014.0,626.3 L1011.2,628.4 L1008.5,630.4 L1005.8,632.5 L1003.1,634.5 L1000.4,636.6 L997.8,638.7 L995.1,640.8 L992.5,642.9 L989.9,645.0 L987.4,647.1 L984.8,649.2 L982.4,651.4 L979.9,653.5 L977.5,655.7 L975.1,657.8 L972.8,660.0 L970.5,662.2 L968.3,664.4 L966.1,666.5 L963.9,668.8 L961.8,671.0 L959.8,673.2 L957.8,675.4 L955.9,677.7 L954.1,679.9 L952.3,682.2 L950.6,684.5 L948.9,686.7 L947.3,689.0 L945.8,691.3 L944.4,693.7 L943.0,696.0 L941.7,698.3 L940.5,700.6 L939.4,703.0 L938.3,705.3 L937.4,707.7 L936.5,710.1 L935.7,712.4 L935.0,714.8 L934.4,717.2 L933.9,719.6 L933.5,721.9 L933.2,724.3 L932.9,726.7 L932.8,729.0 L932.8,731.4 L932.8,733.7 L933.0,736.0 L932.8,738.3 L948.2,737.7 L948.0,736.0 L948.2,734.3 L948.6,732.6 L948.9,731.0 L949.4,729.3 L949.9,727.7 L950.5,726.1 L951.1,724.4 L951.8,722.8 L952.6,721.2 L953.4,719.6 L954.3,717.9 L955.3,716.3 L956.3,714.7 L957.4,713.0 L958.6,711.4 L959.8,709.7 L961.1,708.0 L962.5,706.3 L963.9,704.7 L965.4,703.0 L967.0,701.3 L968.6,699.5 L970.3,697.8 L972.0,696.1 L973.8,694.3 L975.7,692.6 L977.6,690.8 L979.6,689.0 L981.6,687.2 L983.7,685.5 L985.9,683.6 L988.1,681.8 L990.3,680.0 L992.6,678.2 L994.9,676.3 L997.3,674.5 L999.7,672.6 L1002.2,670.8 L1004.6,668.9 L1007.2,667.0 L1009.7,665.1 L1012.3,663.2 L1014.9,661.3 L1017.6,659.4 L1020.2,657.5 L1022.9,655.5 L1025.6,653.6 L1028.3,651.6 L1031.0,649.7 L1033.8,647.7 L1036.5,645.7 L1039.3,643.7 L1042.0,641.7 L1044.8,639.7 L1047.5,637.7 L1050.3,635.7 L1053.0,633.7 L1055.8,631.6 L1058.5,629.6 L1061.2,627.5 L1063.9,625.5 L1066.6,623.4 L1069.2,621.3 L1071.9,619.2 L1074.5,617.1 L1077.1,615.0 L1079.6,612.9 L1082.2,610.8 L1084.6,608.6 L1087.1,606.5 L1089.5,604.3 L1091.9,602.2 L1094.2,600.0 L1096.5,597.8 L1098.7,595.6 L1100.9,593.5 L1103.1,591.2 L1105.2,589.0 L1107.2,586.8 L1109.2,584.6 L1111.1,582.3 L1112.9,580.1 L1114.7,577.8 L1116.4,575.5 L1118.1,573.3 L1119.7,571.0 L1121.2,568.7 L1122.6,566.3 L1124.0,564.0 L1125.3,561.7 L1126.5,559.4 L1127.6,557.0 L1128.7,554.7 L1129.6,552.3 L1130.5,549.9 L1131.3,547.6 L1132.0,545.2 L1132.6,542.8 L1133.1,540.4 L1133.5,538.1 L1133.8,535.7 L1134.1,533.3 L1134.2,531.0 L1134.2,528.6 L1134.2,526.3 L1134.0,524.0 L1134.2,521.7Z" fill="url(#fg)"/><path d="M1118.8,522.3 L1119.0,524.0 L1118.8,525.7 L1118.4,527.4 L1118.1,529.0 L1117.6,530.7 L1117.1,532.3 L1116.5,533.9 L1115.9,535.6 L1115.2,537.2 L1114.4,538.8 L1113.6,540.4 L1112.7,542.1 L1111.7,543.7 L1110.7,545.3 L1109.6,547.0 L1108.4,548.6 L1107.2,550.3 L1105.9,552.0 L1104.5,553.7 L1103.1,555.3 L1101.6,557.0 L1100.0,558.7 L1098.4,560.5 L1096.7,562.2 L1095.0,563.9 L1093.2,565.7 L1091.3,567.4 L1089.4,569.2 L1087.4,571.0 L1085.4,572.8 L1083.3,574.5 L1081.1,576.4 L1078.9,578.2 L1076.7,580.0 L1074.4,581.8 L1072.1,583.7 L1069.7,585.5 L1067.3,587.4 L1064.8,589.2 L1062.4,591.1 L1059.8,593.0 L1057.3,594.9 L1054.7,596.8 L1052.1,598.7 L1049.4,600.6 L1046.8,602.5 L1044.1,604.5 L1041.4,606.4 L1038.7,608.4 L1036.0,610.3 L1033.2,612.3 L1030.5,614.3 L1027.7,616.3 L1025.0,618.3 L1022.2,620.3 L1019.5,622.3 L1016.7,624.3 L1014.0,626.3 L1011.2,628.4 L1008.5,630.4 L1005.8,632.5 L1003.1,634.5 L1000.4,636.6 L997.8,638.7 L995.1,640.8 L992.5,642.9 L989.9,645.0 L987.4,647.1 L984.8,649.2 L982.4,651.4 L979.9,653.5 L977.5,655.7 L975.1,657.8 L972.8,660.0 L970.5,662.2 L968.3,664.4 L966.1,666.5 L963.9,668.8 L961.8,671.0 L959.8,673.2 L957.8,675.4 L955.9,677.7 L954.1,679.9 L952.3,682.2 L950.6,684.5 L948.9,686.7 L947.3,689.0 L945.8,691.3 L944.4,693.7 L943.0,696.0 L941.7,698.3 L940.5,700.6 L939.4,703.0 L938.3,705.3 L937.4,707.7 L936.5,710.1 L935.7,712.4 L935.0,714.8 L934.4,717.2 L933.9,719.6 L933.5,721.9 L933.2,724.3 L932.9,726.7 L932.8,729.0 L932.8,731.4 L932.8,733.7 L933.0,736.0 L932.8,738.3" fill="none" stroke="#3d3826" stroke-width="2.6" stroke-linecap="round"/><path d="M1134.2,521.7 L1134.0,524.0 L1134.2,526.3 L1134.2,528.6 L1134.2,531.0 L1134.1,533.3 L1133.8,535.7 L1133.5,538.1 L1133.1,540.4 L1132.6,542.8 L1132.0,545.2 L1131.3,547.6 L1130.5,549.9 L1129.6,552.3 L1128.7,554.7 L1127.6,557.0 L1126.5,559.4 L1125.3,561.7 L1124.0,564.0 L1122.6,566.3 L1121.2,568.7 L1119.7,571.0 L1118.1,573.3 L1116.4,575.5 L1114.7,577.8 L1112.9,580.1 L1111.1,582.3 L1109.2,584.6 L1107.2,586.8 L1105.2,589.0 L1103.1,591.2 L1100.9,593.5 L1098.7,595.6 L1096.5,597.8 L1094.2,600.0 L1091.9,602.2 L1089.5,604.3 L1087.1,606.5 L1084.6,608.6 L1082.2,610.8 L1079.6,612.9 L1077.1,615.0 L1074.5,617.1 L1071.9,619.2 L1069.2,621.3 L1066.6,623.4 L1063.9,625.5 L1061.2,627.5 L1058.5,629.6 L1055.8,631.6 L1053.0,633.7 L1050.3,635.7 L1047.5,637.7 L1044.8,639.7 L1042.0,641.7 L1039.3,643.7 L1036.5,645.7 L1033.8,647.7 L1031.0,649.7 L1028.3,651.6 L1025.6,653.6 L1022.9,655.5 L1020.2,657.5 L1017.6,659.4 L1014.9,661.3 L1012.3,663.2 L1009.7,665.1 L1007.2,667.0 L1004.6,668.9 L1002.2,670.8 L999.7,672.6 L997.3,674.5 L994.9,676.3 L992.6,678.2 L990.3,680.0 L988.1,681.8 L985.9,683.6 L983.7,685.5 L981.6,687.2 L979.6,689.0 L977.6,690.8 L975.7,692.6 L973.8,694.3 L972.0,696.1 L970.3,697.8 L968.6,699.5 L967.0,701.3 L965.4,703.0 L963.9,704.7 L962.5,706.3 L961.1,708.0 L959.8,709.7 L958.6,711.4 L957.4,713.0 L956.3,714.7 L955.3,716.3 L954.3,717.9 L953.4,719.6 L952.6,721.2 L951.8,722.8 L951.1,724.4 L950.5,726.1 L949.9,727.7 L949.4,729.3 L948.9,731.0 L948.6,732.6 L948.2,734.3 L948.0,736.0 L948.2,737.7" fill="none" stroke="#3d3826" stroke-width="2.6" stroke-linecap="round"/>
<path d="M1118.9,735.2 L1118.9,736.8 L1118.6,738.5 L1118.3,740.2 L1117.9,741.8 L1117.4,743.5 L1116.8,745.1 L1116.2,746.7 L1115.6,748.4 L1114.8,750.0 L1114.0,751.6 L1113.1,753.3 L1112.2,754.9 L1111.2,756.5 L1110.1,758.2 L1109.0,759.8 L1107.8,761.5 L1106.5,763.1 L1105.2,764.8 L1103.8,766.5 L1102.3,768.2 L1100.8,769.9 L1099.2,771.6 L1097.6,773.3 L1095.9,775.1 L1094.1,776.8 L1092.2,778.6 L1090.3,780.3 L1088.4,782.1 L1086.4,783.9 L1084.3,785.7 L1082.2,787.4 L1080.0,789.3 L1077.8,791.1 L1075.6,792.9 L1073.2,794.7 L1070.9,796.6 L1068.5,798.4 L1066.1,800.3 L1063.6,802.2 L1061.1,804.0 L1058.6,805.9 L1056.0,807.8 L1053.4,809.7 L1050.8,811.6 L1048.1,813.6 L1045.5,815.5 L1042.8,817.4 L1040.1,819.4 L1037.3,821.4 L1034.6,823.3 L1031.9,825.3 L1029.1,827.3 L1026.4,829.3 L1023.6,831.3 L1020.8,833.3 L1018.1,835.3 L1015.3,837.3 L1012.6,839.4 L1009.9,841.4 L1007.2,843.4 L1004.4,845.5 L1001.8,847.6 L999.1,849.6 L996.4,851.7 L993.8,853.8 L991.2,855.9 L988.6,858.0 L986.1,860.2 L983.6,862.3 L981.1,864.4 L978.7,866.6 L976.3,868.7 L973.9,870.9 L971.6,873.1 L969.4,875.3 L967.2,877.4 L965.0,879.7 L962.9,881.9 L960.8,884.1 L958.8,886.3 L956.9,888.6 L955.0,890.8 L953.2,893.1 L951.4,895.3 L949.7,897.6 L948.1,899.9 L946.6,902.2 L945.1,904.5 L943.7,906.8 L942.3,909.1 L941.1,911.5 L939.9,913.8 L938.8,916.2 L937.8,918.5 L936.9,920.9 L936.1,923.3 L935.3,925.6 L934.7,928.0 L934.1,930.4 L933.7,932.7 L933.3,935.1 L933.0,937.5 L932.9,939.8 L932.8,942.2 L932.8,944.5 L932.9,946.8 L932.9,949.2 L932.8,951.5 L932.8,953.8 L932.9,956.2 L933.0,958.5 L933.3,960.9 L933.7,963.3 L934.1,965.6 L934.7,968.0 L935.0,969.2 L936.5,968.6 L936.5,967.4 L938.0,964.5 L939.1,961.8 L940.0,959.4 L940.9,957.1 L941.8,954.9 L942.6,952.8 L943.4,950.8 L944.2,948.9 L945.1,947.1 L946.2,945.3 L947.4,943.7 L948.7,942.1 L949.6,940.5 L950.2,938.9 L950.8,937.3 L951.4,935.6 L952.2,934.0 L953.0,932.4 L953.9,930.7 L954.8,929.1 L955.8,927.5 L956.9,925.8 L958.0,924.2 L959.2,922.5 L960.5,920.9 L961.8,919.2 L963.2,917.5 L964.7,915.8 L966.2,914.1 L967.8,912.4 L969.4,910.7 L971.1,908.9 L972.9,907.2 L974.8,905.4 L976.7,903.7 L978.6,901.9 L980.6,900.1 L982.7,898.3 L984.8,896.6 L987.0,894.7 L989.2,892.9 L991.4,891.1 L993.8,889.3 L996.1,887.4 L998.5,885.6 L1000.9,883.7 L1003.4,881.8 L1005.9,880.0 L1008.4,878.1 L1011.0,876.2 L1013.6,874.3 L1016.2,872.4 L1018.9,870.4 L1021.5,868.5 L1024.2,866.6 L1026.9,864.6 L1029.7,862.6 L1032.4,860.7 L1035.1,858.7 L1037.9,856.7 L1040.6,854.7 L1043.4,852.7 L1046.2,850.7 L1048.9,848.7 L1051.7,846.7 L1054.4,844.6 L1057.1,842.6 L1059.8,840.6 L1062.6,838.5 L1065.2,836.4 L1067.9,834.4 L1070.6,832.3 L1073.2,830.2 L1075.8,828.1 L1078.4,826.0 L1080.9,823.8 L1083.4,821.7 L1085.9,819.6 L1088.3,817.4 L1090.7,815.3 L1093.1,813.1 L1095.4,810.9 L1097.6,808.7 L1099.8,806.6 L1102.0,804.3 L1104.1,802.1 L1106.2,799.9 L1108.2,797.7 L1110.1,795.4 L1112.0,793.2 L1113.8,790.9 L1115.6,788.7 L1117.3,786.4 L1118.9,784.1 L1120.4,781.8 L1121.9,779.5 L1123.3,777.2 L1124.7,774.9 L1125.9,772.5 L1127.1,770.2 L1128.2,767.8 L1129.2,765.5 L1130.1,763.1 L1130.9,760.7 L1131.7,758.4 L1132.3,756.0 L1132.9,753.6 L1133.3,751.3 L1133.7,748.9 L1134.0,746.5 L1134.1,744.2 L1134.2,741.8 L1134.2,739.5 L1134.1,737.2 L1134.1,734.8Z" fill="url(#fb)"/><path d="M1118.9,735.2 L1118.9,736.8 L1118.6,738.5 L1118.3,740.2 L1117.9,741.8 L1117.4,743.5 L1116.8,745.1 L1116.2,746.7 L1115.6,748.4 L1114.8,750.0 L1114.0,751.6 L1113.1,753.3 L1112.2,754.9 L1111.2,756.5 L1110.1,758.2 L1109.0,759.8 L1107.8,761.5 L1106.5,763.1 L1105.2,764.8 L1103.8,766.5 L1102.3,768.2 L1100.8,769.9 L1099.2,771.6 L1097.6,773.3 L1095.9,775.1 L1094.1,776.8 L1092.2,778.6 L1090.3,780.3 L1088.4,782.1 L1086.4,783.9 L1084.3,785.7 L1082.2,787.4 L1080.0,789.3 L1077.8,791.1 L1075.6,792.9 L1073.2,794.7 L1070.9,796.6 L1068.5,798.4 L1066.1,800.3 L1063.6,802.2 L1061.1,804.0 L1058.6,805.9 L1056.0,807.8 L1053.4,809.7 L1050.8,811.6 L1048.1,813.6 L1045.5,815.5 L1042.8,817.4 L1040.1,819.4 L1037.3,821.4 L1034.6,823.3 L1031.9,825.3 L1029.1,827.3 L1026.4,829.3 L1023.6,831.3 L1020.8,833.3 L1018.1,835.3 L1015.3,837.3 L1012.6,839.4 L1009.9,841.4 L1007.2,843.4 L1004.4,845.5 L1001.8,847.6 L999.1,849.6 L996.4,851.7 L993.8,853.8 L991.2,855.9 L988.6,858.0 L986.1,860.2 L983.6,862.3 L981.1,864.4 L978.7,866.6 L976.3,868.7 L973.9,870.9 L971.6,873.1 L969.4,875.3 L967.2,877.4 L965.0,879.7 L962.9,881.9 L960.8,884.1 L958.8,886.3 L956.9,888.6 L955.0,890.8 L953.2,893.1 L951.4,895.3 L949.7,897.6 L948.1,899.9 L946.6,902.2 L945.1,904.5 L943.7,906.8 L942.3,909.1 L941.1,911.5 L939.9,913.8 L938.8,916.2 L937.8,918.5 L936.9,920.9 L936.1,923.3 L935.3,925.6 L934.7,928.0 L934.1,930.4 L933.7,932.7 L933.3,935.1 L933.0,937.5 L932.9,939.8 L932.8,942.2 L932.8,944.5 L932.9,946.8 L932.9,949.2 L932.8,951.5 L932.8,953.8 L932.9,956.2 L933.0,958.5 L933.3,960.9 L933.7,963.3 L934.1,965.6 L934.7,968.0 L935.0,969.2" fill="none" stroke="#1a2c44" stroke-width="2.6" stroke-linecap="round"/><path d="M1134.1,734.8 L1134.1,737.2 L1134.2,739.5 L1134.2,741.8 L1134.1,744.2 L1134.0,746.5 L1133.7,748.9 L1133.3,751.3 L1132.9,753.6 L1132.3,756.0 L1131.7,758.4 L1130.9,760.7 L1130.1,763.1 L1129.2,765.5 L1128.2,767.8 L1127.1,770.2 L1125.9,772.5 L1124.7,774.9 L1123.3,777.2 L1121.9,779.5 L1120.4,781.8 L1118.9,784.1 L1117.3,786.4 L1115.6,788.7 L1113.8,790.9 L1112.0,793.2 L1110.1,795.4 L1108.2,797.7 L1106.2,799.9 L1104.1,802.1 L1102.0,804.3 L1099.8,806.6 L1097.6,808.7 L1095.4,810.9 L1093.1,813.1 L1090.7,815.3 L1088.3,817.4 L1085.9,819.6 L1083.4,821.7 L1080.9,823.8 L1078.4,826.0 L1075.8,828.1 L1073.2,830.2 L1070.6,832.3 L1067.9,834.4 L1065.2,836.4 L1062.6,838.5 L1059.8,840.6 L1057.1,842.6 L1054.4,844.6 L1051.7,846.7 L1048.9,848.7 L1046.2,850.7 L1043.4,852.7 L1040.6,854.7 L1037.9,856.7 L1035.1,858.7 L1032.4,860.7 L1029.7,862.6 L1026.9,864.6 L1024.2,866.6 L1021.5,868.5 L1018.9,870.4 L1016.2,872.4 L1013.6,874.3 L1011.0,876.2 L1008.4,878.1 L1005.9,880.0 L1003.4,881.8 L1000.9,883.7 L998.5,885.6 L996.1,887.4 L993.8,889.3 L991.4,891.1 L989.2,892.9 L987.0,894.7 L984.8,896.6 L982.7,898.3 L980.6,900.1 L978.6,901.9 L976.7,903.7 L974.8,905.4 L972.9,907.2 L971.1,908.9 L969.4,910.7 L967.8,912.4 L966.2,914.1 L964.7,915.8 L963.2,917.5 L961.8,919.2 L960.5,920.9 L959.2,922.5 L958.0,924.2 L956.9,925.8 L955.8,927.5 L954.8,929.1 L953.9,930.7 L953.0,932.4 L952.2,934.0 L951.4,935.6 L950.8,937.3 L950.2,938.9 L949.6,940.5 L948.7,942.1 L947.4,943.7 L946.2,945.3 L945.1,947.1 L944.2,948.9 L943.4,950.8 L942.6,952.8 L941.8,954.9 L940.9,957.1 L940.0,959.4 L939.1,961.8 L938.0,964.5 L936.5,967.4 L936.5,968.6" fill="none" stroke="#1a2c44" stroke-width="2.6" stroke-linecap="round"/>
</svg>

<div id="t1" class="abs tt" style="left:441px;top:57px">演化的雙面刃</div>
<div id="t2" class="abs tt" style="left:953px;top:57px">：</div>
<div id="t3" class="abs tt" style="left:1032px;font-size:88px;top:51px">APOL1 (2010)</div>
<div id="s1" class="abs st" style="left:577px">生存的代價</div>
<div id="s2" class="abs st" style="left:842px">：</div>
<div id="s3" class="abs st" style="left:896px">抵抗昏睡病</div>
<div id="s4" class="abs st" style="left:1171px;font-size:56px;top:164px">vs.</div>
<div id="s5" class="abs st" style="left:1258px;font-size:52.5px;top:167px">腎臟衰竭</div>
<div id="adv" class="abs">演化優勢：<br>抵抗錐蟲病</div>
<div id="charttitle" class="abs">風險倍數（純合子：兩個風險等位基因）</div>
<div id="box" class="abs"></div>
<div id="c1" class="abs cc" style="left:76px">結論：將社會經濟差異轉化為生物學機制。非裔美國人的高發病率並非單純的「高血壓性腎病」</div>
<div id="c2" class="abs cc" style="left:1566px">，而是</div>
<div id="c3" class="abs cc" style="left:1679px;letter-spacing:-1.6px">APOL1</div>
<div id="c4" class="abs cc" style="left:1798px">相關腎病。</div>
<svg id="chart" class="abs" style="left:0;top:0" width="2030" height="1126">
<defs>
<pattern id="hatch" width="8" height="8" patternUnits="userSpaceOnUse" patternTransform="rotate(45)">
<line x1="0" y1="0" x2="0" y2="8" stroke="#4e0f1e" stroke-width="1.5"/>
<line x1="0" y1="0" x2="8" y2="0" stroke="#4e0f1e" stroke-width="1.5"/>
</pattern>
<linearGradient id="hm1" gradientUnits="userSpaceOnUse" x1="1438" y1="800" x2="1486" y2="892">
<stop offset="0" stop-color="#fff" stop-opacity="0"/><stop offset="0.35" stop-color="#fff" stop-opacity="0.55"/><stop offset="1" stop-color="#fff" stop-opacity="1"/>
</linearGradient>
<linearGradient id="hm2" gradientUnits="userSpaceOnUse" x1="1745" y1="725" x2="1785" y2="822">
<stop offset="0" stop-color="#fff" stop-opacity="0"/><stop offset="0.3" stop-color="#fff" stop-opacity="0.5"/><stop offset="1" stop-color="#fff" stop-opacity="1"/>
</linearGradient>
<mask id="m1"><rect x="1333" y="633" width="212" height="277" fill="url(#hm1)"/></mask>
<mask id="m2"><rect x="1640" y="438" width="211" height="472" fill="url(#hm2)"/></mask>
</defs>
<line x1="1251" y1="365" x2="1251" y2="911" stroke="#1c3346" stroke-width="2.2"/>
<rect x="1333" y="633" width="211" height="277" fill="#a23446" stroke="#6e1a2a" stroke-width="2"/>
<rect x="1333" y="633" width="211" height="277" fill="url(#hatch)" mask="url(#m1)" opacity="0.85"/>
<rect x="1640" y="438" width="211" height="472" fill="#a23446" stroke="#6e1a2a" stroke-width="2"/>
<rect x="1640" y="438" width="211" height="472" fill="url(#hatch)" mask="url(#m2)" opacity="0.85"/>
<line x1="1250" y1="910.5" x2="1933" y2="910.5" stroke="#1c3346" stroke-width="2.5"/>
</svg>
<div id="v17" class="abs val" style="left:1381px;top:548px">17x</div>
<div id="v29" class="abs val" style="left:1686px;top:352px">29x</div>
<div id="l1" class="abs lab" style="left:1349px"><span class="lt" style="letter-spacing:-2.5px">FSGS</span> 風險</div>
<div id="l2" class="abs lab" style="left:1646px"><span class="lt" style="letter-spacing:-1px">HIVAN</span> 風險</div>

</body>
</html>
